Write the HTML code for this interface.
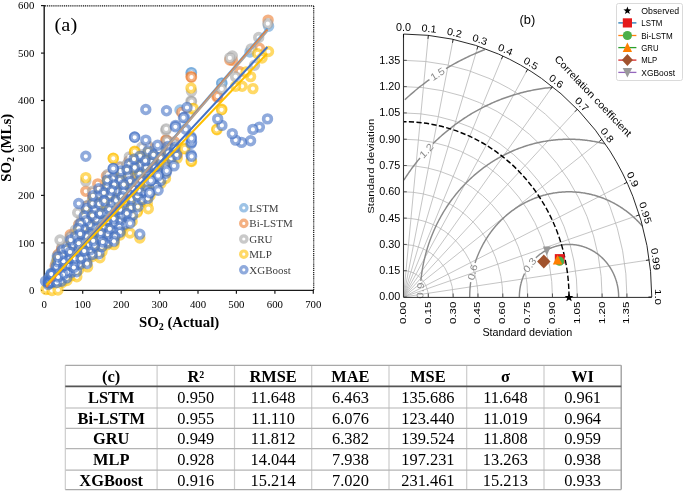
<!DOCTYPE html>
<html><head><meta charset="utf-8"><style>
html,body{margin:0;padding:0;background:#fff;}
svg{display:block;will-change:transform;}
text{font-family:"Liberation Serif",serif;}
.ta{font-size:10.8px;fill:#000;}
.lab{font-size:18px;fill:#000;}
.tt{font-size:14.8px;font-weight:bold;fill:#000;}
.lg{font-size:11px;fill:#404040;}
.tk{font-family:"Liberation Sans",sans-serif;font-size:10.2px;fill:#000;}
.st{font-family:"Liberation Sans",sans-serif;font-size:11.4px;fill:#000;}
.ct{font-family:"Liberation Sans",sans-serif;font-size:11.2px;fill:#000;}
.rl{font-family:"Liberation Sans",sans-serif;font-size:10.2px;fill:#8a8a8a;}
.tb2{font-family:"Liberation Sans",sans-serif;font-size:11.9px;fill:#000;}
.lb{font-family:"Liberation Sans",sans-serif;font-size:8.5px;fill:#000;}
.tb{font-size:16.4px;font-weight:bold;fill:#000;}
.tr{font-size:16.4px;fill:#000;}
</style></head>
<body><svg width="685" height="491" viewBox="0 0 685 491">
<rect width="685" height="491" fill="#fff"/>
<line x1="44.2" y1="5" x2="44.2" y2="291" stroke="#1a1a1a" stroke-width="1.4"/><line x1="43.5" y1="290.4" x2="313.6" y2="290.4" stroke="#1a1a1a" stroke-width="1.4"/><line x1="45" y1="5.9" x2="313.7" y2="5.9" stroke="#111" stroke-width="1.2" stroke-dasharray="1.1 0.8"/><line x1="313.7" y1="5.9" x2="313.7" y2="290" stroke="#111" stroke-width="1.2" stroke-dasharray="1.1 0.8"/><line x1="41" y1="290.3" x2="44.5" y2="290.3" stroke="#1a1a1a" stroke-width="1.2"/><text x="34.3" y="293.9" text-anchor="end" class="ta">0</text><line x1="41" y1="242.9" x2="44.5" y2="242.9" stroke="#1a1a1a" stroke-width="1.2"/><text x="34.3" y="246.5" text-anchor="end" class="ta">100</text><line x1="41" y1="195.4" x2="44.5" y2="195.4" stroke="#1a1a1a" stroke-width="1.2"/><text x="34.3" y="199.0" text-anchor="end" class="ta">200</text><line x1="41" y1="148.0" x2="44.5" y2="148.0" stroke="#1a1a1a" stroke-width="1.2"/><text x="34.3" y="151.6" text-anchor="end" class="ta">300</text><line x1="41" y1="100.5" x2="44.5" y2="100.5" stroke="#1a1a1a" stroke-width="1.2"/><text x="34.3" y="104.1" text-anchor="end" class="ta">400</text><line x1="41" y1="53.1" x2="44.5" y2="53.1" stroke="#1a1a1a" stroke-width="1.2"/><text x="34.3" y="56.7" text-anchor="end" class="ta">500</text><line x1="41" y1="5.6" x2="44.5" y2="5.6" stroke="#1a1a1a" stroke-width="1.2"/><text x="34.3" y="9.2" text-anchor="end" class="ta">600</text><line x1="44.3" y1="290" x2="44.3" y2="293.8" stroke="#1a1a1a" stroke-width="1.2"/><text x="44.3" y="307.5" text-anchor="middle" class="ta">0</text><line x1="82.7" y1="290" x2="82.7" y2="293.8" stroke="#1a1a1a" stroke-width="1.2"/><text x="82.7" y="307.5" text-anchor="middle" class="ta">100</text><line x1="121.2" y1="290" x2="121.2" y2="293.8" stroke="#1a1a1a" stroke-width="1.2"/><text x="121.2" y="307.5" text-anchor="middle" class="ta">200</text><line x1="159.6" y1="290" x2="159.6" y2="293.8" stroke="#1a1a1a" stroke-width="1.2"/><text x="159.6" y="307.5" text-anchor="middle" class="ta">300</text><line x1="198.0" y1="290" x2="198.0" y2="293.8" stroke="#1a1a1a" stroke-width="1.2"/><text x="198.0" y="307.5" text-anchor="middle" class="ta">400</text><line x1="236.4" y1="290" x2="236.4" y2="293.8" stroke="#1a1a1a" stroke-width="1.2"/><text x="236.4" y="307.5" text-anchor="middle" class="ta">500</text><line x1="274.9" y1="290" x2="274.9" y2="293.8" stroke="#1a1a1a" stroke-width="1.2"/><text x="274.9" y="307.5" text-anchor="middle" class="ta">600</text><line x1="313.3" y1="290" x2="313.3" y2="293.8" stroke="#1a1a1a" stroke-width="1.2"/><text x="313.3" y="307.5" text-anchor="middle" class="ta">700</text><text x="54.6" y="31" class="lab" textLength="22.6" lengthAdjust="spacingAndGlyphs">(a)</text><text x="179.1" y="327" text-anchor="middle" class="tt">SO<tspan font-size="10" dy="3">2</tspan><tspan dy="-3"> (Actual)</tspan></text><text transform="translate(11.3,147.8) rotate(-90)" text-anchor="middle" class="tt">SO<tspan font-size="10" dy="3">2</tspan><tspan dy="-3"> (MLs)</tspan></text>
<g stroke="#5B9BD5" stroke-opacity="0.6" stroke-width="3.6"><circle cx="158.7" cy="171.1" r="3.9" fill="#fff" fill-opacity="0.3"/><circle cx="158.7" cy="171.1" r="2.05" fill="#fff" stroke="none"/><circle cx="53.0" cy="277.8" r="3.9" fill="#fff" fill-opacity="0.3"/><circle cx="53.0" cy="277.8" r="2.05" fill="#fff" stroke="none"/><circle cx="95.8" cy="209.1" r="3.9" fill="#fff" fill-opacity="0.3"/><circle cx="95.8" cy="209.1" r="2.05" fill="#fff" stroke="none"/><circle cx="123.9" cy="200.1" r="3.9" fill="#fff" fill-opacity="0.3"/><circle cx="123.9" cy="200.1" r="2.05" fill="#fff" stroke="none"/><circle cx="121.8" cy="215.9" r="3.9" fill="#fff" fill-opacity="0.3"/><circle cx="121.8" cy="215.9" r="2.05" fill="#fff" stroke="none"/><circle cx="63.6" cy="265.0" r="3.9" fill="#fff" fill-opacity="0.3"/><circle cx="63.6" cy="265.0" r="2.05" fill="#fff" stroke="none"/><circle cx="104.4" cy="211.3" r="3.9" fill="#fff" fill-opacity="0.3"/><circle cx="104.4" cy="211.3" r="2.05" fill="#fff" stroke="none"/><circle cx="131.6" cy="207.8" r="3.9" fill="#fff" fill-opacity="0.3"/><circle cx="131.6" cy="207.8" r="2.05" fill="#fff" stroke="none"/><circle cx="129.4" cy="193.4" r="3.9" fill="#fff" fill-opacity="0.3"/><circle cx="129.4" cy="193.4" r="2.05" fill="#fff" stroke="none"/><circle cx="129.7" cy="217.9" r="3.9" fill="#fff" fill-opacity="0.3"/><circle cx="129.7" cy="217.9" r="2.05" fill="#fff" stroke="none"/><circle cx="107.7" cy="185.9" r="3.9" fill="#fff" fill-opacity="0.3"/><circle cx="107.7" cy="185.9" r="2.05" fill="#fff" stroke="none"/><circle cx="61.5" cy="250.4" r="3.9" fill="#fff" fill-opacity="0.3"/><circle cx="61.5" cy="250.4" r="2.05" fill="#fff" stroke="none"/><circle cx="127.7" cy="172.7" r="3.9" fill="#fff" fill-opacity="0.3"/><circle cx="127.7" cy="172.7" r="2.05" fill="#fff" stroke="none"/><circle cx="139.6" cy="162.5" r="3.9" fill="#fff" fill-opacity="0.3"/><circle cx="139.6" cy="162.5" r="2.05" fill="#fff" stroke="none"/><circle cx="165.7" cy="164.4" r="3.9" fill="#fff" fill-opacity="0.3"/><circle cx="165.7" cy="164.4" r="2.05" fill="#fff" stroke="none"/><circle cx="57.6" cy="269.7" r="3.9" fill="#fff" fill-opacity="0.3"/><circle cx="57.6" cy="269.7" r="2.05" fill="#fff" stroke="none"/><circle cx="152.7" cy="178.6" r="3.9" fill="#fff" fill-opacity="0.3"/><circle cx="152.7" cy="178.6" r="2.05" fill="#fff" stroke="none"/><circle cx="86.9" cy="206.1" r="3.9" fill="#fff" fill-opacity="0.3"/><circle cx="86.9" cy="206.1" r="2.05" fill="#fff" stroke="none"/><circle cx="85.0" cy="255.9" r="3.9" fill="#fff" fill-opacity="0.3"/><circle cx="85.0" cy="255.9" r="2.05" fill="#fff" stroke="none"/><circle cx="129.3" cy="181.3" r="3.9" fill="#fff" fill-opacity="0.3"/><circle cx="129.3" cy="181.3" r="2.05" fill="#fff" stroke="none"/><circle cx="99.2" cy="193.6" r="3.9" fill="#fff" fill-opacity="0.3"/><circle cx="99.2" cy="193.6" r="2.05" fill="#fff" stroke="none"/><circle cx="151.5" cy="159.3" r="3.9" fill="#fff" fill-opacity="0.3"/><circle cx="151.5" cy="159.3" r="2.05" fill="#fff" stroke="none"/><circle cx="56.4" cy="265.9" r="3.9" fill="#fff" fill-opacity="0.3"/><circle cx="56.4" cy="265.9" r="2.05" fill="#fff" stroke="none"/><circle cx="92.6" cy="204.5" r="3.9" fill="#fff" fill-opacity="0.3"/><circle cx="92.6" cy="204.5" r="2.05" fill="#fff" stroke="none"/><circle cx="119.2" cy="181.0" r="3.9" fill="#fff" fill-opacity="0.3"/><circle cx="119.2" cy="181.0" r="2.05" fill="#fff" stroke="none"/><circle cx="112.6" cy="202.8" r="3.9" fill="#fff" fill-opacity="0.3"/><circle cx="112.6" cy="202.8" r="2.05" fill="#fff" stroke="none"/><circle cx="161.3" cy="179.7" r="3.9" fill="#fff" fill-opacity="0.3"/><circle cx="161.3" cy="179.7" r="2.05" fill="#fff" stroke="none"/><circle cx="84.4" cy="239.0" r="3.9" fill="#fff" fill-opacity="0.3"/><circle cx="84.4" cy="239.0" r="2.05" fill="#fff" stroke="none"/><circle cx="108.4" cy="219.2" r="3.9" fill="#fff" fill-opacity="0.3"/><circle cx="108.4" cy="219.2" r="2.05" fill="#fff" stroke="none"/><circle cx="143.9" cy="193.5" r="3.9" fill="#fff" fill-opacity="0.3"/><circle cx="143.9" cy="193.5" r="2.05" fill="#fff" stroke="none"/><circle cx="78.3" cy="250.0" r="3.9" fill="#fff" fill-opacity="0.3"/><circle cx="78.3" cy="250.0" r="2.05" fill="#fff" stroke="none"/><circle cx="124.5" cy="225.0" r="3.9" fill="#fff" fill-opacity="0.3"/><circle cx="124.5" cy="225.0" r="2.05" fill="#fff" stroke="none"/><circle cx="119.9" cy="218.7" r="3.9" fill="#fff" fill-opacity="0.3"/><circle cx="119.9" cy="218.7" r="2.05" fill="#fff" stroke="none"/><circle cx="110.3" cy="193.4" r="3.9" fill="#fff" fill-opacity="0.3"/><circle cx="110.3" cy="193.4" r="2.05" fill="#fff" stroke="none"/><circle cx="140.7" cy="156.1" r="3.9" fill="#fff" fill-opacity="0.3"/><circle cx="140.7" cy="156.1" r="2.05" fill="#fff" stroke="none"/><circle cx="72.4" cy="270.3" r="3.9" fill="#fff" fill-opacity="0.3"/><circle cx="72.4" cy="270.3" r="2.05" fill="#fff" stroke="none"/><circle cx="75.1" cy="234.2" r="3.9" fill="#fff" fill-opacity="0.3"/><circle cx="75.1" cy="234.2" r="2.05" fill="#fff" stroke="none"/><circle cx="168.6" cy="145.0" r="3.9" fill="#fff" fill-opacity="0.3"/><circle cx="168.6" cy="145.0" r="2.05" fill="#fff" stroke="none"/><circle cx="79.3" cy="261.9" r="3.9" fill="#fff" fill-opacity="0.3"/><circle cx="79.3" cy="261.9" r="2.05" fill="#fff" stroke="none"/><circle cx="129.2" cy="160.8" r="3.9" fill="#fff" fill-opacity="0.3"/><circle cx="129.2" cy="160.8" r="2.05" fill="#fff" stroke="none"/><circle cx="171.6" cy="158.5" r="3.9" fill="#fff" fill-opacity="0.3"/><circle cx="171.6" cy="158.5" r="2.05" fill="#fff" stroke="none"/><circle cx="90.6" cy="232.1" r="3.9" fill="#fff" fill-opacity="0.3"/><circle cx="90.6" cy="232.1" r="2.05" fill="#fff" stroke="none"/><circle cx="83.6" cy="213.3" r="3.9" fill="#fff" fill-opacity="0.3"/><circle cx="83.6" cy="213.3" r="2.05" fill="#fff" stroke="none"/><circle cx="148.8" cy="193.0" r="3.9" fill="#fff" fill-opacity="0.3"/><circle cx="148.8" cy="193.0" r="2.05" fill="#fff" stroke="none"/><circle cx="121.5" cy="170.2" r="3.9" fill="#fff" fill-opacity="0.3"/><circle cx="121.5" cy="170.2" r="2.05" fill="#fff" stroke="none"/><circle cx="137.7" cy="184.8" r="3.9" fill="#fff" fill-opacity="0.3"/><circle cx="137.7" cy="184.8" r="2.05" fill="#fff" stroke="none"/><circle cx="118.0" cy="192.2" r="3.9" fill="#fff" fill-opacity="0.3"/><circle cx="118.0" cy="192.2" r="2.05" fill="#fff" stroke="none"/><circle cx="115.3" cy="198.4" r="3.9" fill="#fff" fill-opacity="0.3"/><circle cx="115.3" cy="198.4" r="2.05" fill="#fff" stroke="none"/><circle cx="114.3" cy="228.4" r="3.9" fill="#fff" fill-opacity="0.3"/><circle cx="114.3" cy="228.4" r="2.05" fill="#fff" stroke="none"/><circle cx="99.8" cy="189.7" r="3.9" fill="#fff" fill-opacity="0.3"/><circle cx="99.8" cy="189.7" r="2.05" fill="#fff" stroke="none"/><circle cx="66.0" cy="247.6" r="3.9" fill="#fff" fill-opacity="0.3"/><circle cx="66.0" cy="247.6" r="2.05" fill="#fff" stroke="none"/><circle cx="66.1" cy="278.6" r="3.9" fill="#fff" fill-opacity="0.3"/><circle cx="66.1" cy="278.6" r="2.05" fill="#fff" stroke="none"/><circle cx="149.4" cy="172.1" r="3.9" fill="#fff" fill-opacity="0.3"/><circle cx="149.4" cy="172.1" r="2.05" fill="#fff" stroke="none"/><circle cx="95.8" cy="219.4" r="3.9" fill="#fff" fill-opacity="0.3"/><circle cx="95.8" cy="219.4" r="2.05" fill="#fff" stroke="none"/><circle cx="74.2" cy="244.1" r="3.9" fill="#fff" fill-opacity="0.3"/><circle cx="74.2" cy="244.1" r="2.05" fill="#fff" stroke="none"/><circle cx="86.3" cy="262.4" r="3.9" fill="#fff" fill-opacity="0.3"/><circle cx="86.3" cy="262.4" r="2.05" fill="#fff" stroke="none"/><circle cx="62.2" cy="256.2" r="3.9" fill="#fff" fill-opacity="0.3"/><circle cx="62.2" cy="256.2" r="2.05" fill="#fff" stroke="none"/><circle cx="68.5" cy="256.2" r="3.9" fill="#fff" fill-opacity="0.3"/><circle cx="68.5" cy="256.2" r="2.05" fill="#fff" stroke="none"/><circle cx="109.2" cy="213.5" r="3.9" fill="#fff" fill-opacity="0.3"/><circle cx="109.2" cy="213.5" r="2.05" fill="#fff" stroke="none"/><circle cx="100.6" cy="236.7" r="3.9" fill="#fff" fill-opacity="0.3"/><circle cx="100.6" cy="236.7" r="2.05" fill="#fff" stroke="none"/><circle cx="78.2" cy="249.1" r="3.9" fill="#fff" fill-opacity="0.3"/><circle cx="78.2" cy="249.1" r="2.05" fill="#fff" stroke="none"/><circle cx="74.7" cy="256.8" r="3.9" fill="#fff" fill-opacity="0.3"/><circle cx="74.7" cy="256.8" r="2.05" fill="#fff" stroke="none"/><circle cx="93.1" cy="253.6" r="3.9" fill="#fff" fill-opacity="0.3"/><circle cx="93.1" cy="253.6" r="2.05" fill="#fff" stroke="none"/><circle cx="120.2" cy="209.9" r="3.9" fill="#fff" fill-opacity="0.3"/><circle cx="120.2" cy="209.9" r="2.05" fill="#fff" stroke="none"/><circle cx="114.9" cy="220.7" r="3.9" fill="#fff" fill-opacity="0.3"/><circle cx="114.9" cy="220.7" r="2.05" fill="#fff" stroke="none"/><circle cx="107.1" cy="241.8" r="3.9" fill="#fff" fill-opacity="0.3"/><circle cx="107.1" cy="241.8" r="2.05" fill="#fff" stroke="none"/><circle cx="90.9" cy="250.0" r="3.9" fill="#fff" fill-opacity="0.3"/><circle cx="90.9" cy="250.0" r="2.05" fill="#fff" stroke="none"/><circle cx="49.6" cy="283.6" r="3.9" fill="#fff" fill-opacity="0.3"/><circle cx="49.6" cy="283.6" r="2.05" fill="#fff" stroke="none"/><circle cx="81.6" cy="255.6" r="3.9" fill="#fff" fill-opacity="0.3"/><circle cx="81.6" cy="255.6" r="2.05" fill="#fff" stroke="none"/><circle cx="110.0" cy="209.4" r="3.9" fill="#fff" fill-opacity="0.3"/><circle cx="110.0" cy="209.4" r="2.05" fill="#fff" stroke="none"/><circle cx="148.5" cy="150.7" r="3.9" fill="#fff" fill-opacity="0.3"/><circle cx="148.5" cy="150.7" r="2.05" fill="#fff" stroke="none"/><circle cx="132.1" cy="199.5" r="3.9" fill="#fff" fill-opacity="0.3"/><circle cx="132.1" cy="199.5" r="2.05" fill="#fff" stroke="none"/><circle cx="120.3" cy="225.9" r="3.9" fill="#fff" fill-opacity="0.3"/><circle cx="120.3" cy="225.9" r="2.05" fill="#fff" stroke="none"/><circle cx="101.1" cy="247.3" r="3.9" fill="#fff" fill-opacity="0.3"/><circle cx="101.1" cy="247.3" r="2.05" fill="#fff" stroke="none"/><circle cx="57.0" cy="260.4" r="3.9" fill="#fff" fill-opacity="0.3"/><circle cx="57.0" cy="260.4" r="2.05" fill="#fff" stroke="none"/><circle cx="155.8" cy="186.4" r="3.9" fill="#fff" fill-opacity="0.3"/><circle cx="155.8" cy="186.4" r="2.05" fill="#fff" stroke="none"/><circle cx="155.5" cy="167.3" r="3.9" fill="#fff" fill-opacity="0.3"/><circle cx="155.5" cy="167.3" r="2.05" fill="#fff" stroke="none"/><circle cx="135.0" cy="167.4" r="3.9" fill="#fff" fill-opacity="0.3"/><circle cx="135.0" cy="167.4" r="2.05" fill="#fff" stroke="none"/><circle cx="99.2" cy="203.2" r="3.9" fill="#fff" fill-opacity="0.3"/><circle cx="99.2" cy="203.2" r="2.05" fill="#fff" stroke="none"/><circle cx="75.9" cy="271.5" r="3.9" fill="#fff" fill-opacity="0.3"/><circle cx="75.9" cy="271.5" r="2.05" fill="#fff" stroke="none"/><circle cx="160.3" cy="157.4" r="3.9" fill="#fff" fill-opacity="0.3"/><circle cx="160.3" cy="157.4" r="2.05" fill="#fff" stroke="none"/><circle cx="92.1" cy="213.7" r="3.9" fill="#fff" fill-opacity="0.3"/><circle cx="92.1" cy="213.7" r="2.05" fill="#fff" stroke="none"/><circle cx="103.3" cy="191.0" r="3.9" fill="#fff" fill-opacity="0.3"/><circle cx="103.3" cy="191.0" r="2.05" fill="#fff" stroke="none"/><circle cx="137.4" cy="194.2" r="3.9" fill="#fff" fill-opacity="0.3"/><circle cx="137.4" cy="194.2" r="2.05" fill="#fff" stroke="none"/><circle cx="141.2" cy="180.7" r="3.9" fill="#fff" fill-opacity="0.3"/><circle cx="141.2" cy="180.7" r="2.05" fill="#fff" stroke="none"/><circle cx="89.4" cy="245.5" r="3.9" fill="#fff" fill-opacity="0.3"/><circle cx="89.4" cy="245.5" r="2.05" fill="#fff" stroke="none"/><circle cx="69.8" cy="238.3" r="3.9" fill="#fff" fill-opacity="0.3"/><circle cx="69.8" cy="238.3" r="2.05" fill="#fff" stroke="none"/><circle cx="86.6" cy="217.8" r="3.9" fill="#fff" fill-opacity="0.3"/><circle cx="86.6" cy="217.8" r="2.05" fill="#fff" stroke="none"/><circle cx="87.7" cy="237.4" r="3.9" fill="#fff" fill-opacity="0.3"/><circle cx="87.7" cy="237.4" r="2.05" fill="#fff" stroke="none"/><circle cx="145.4" cy="165.6" r="3.9" fill="#fff" fill-opacity="0.3"/><circle cx="145.4" cy="165.6" r="2.05" fill="#fff" stroke="none"/><circle cx="107.3" cy="233.7" r="3.9" fill="#fff" fill-opacity="0.3"/><circle cx="107.3" cy="233.7" r="2.05" fill="#fff" stroke="none"/><circle cx="120.6" cy="232.5" r="3.9" fill="#fff" fill-opacity="0.3"/><circle cx="120.6" cy="232.5" r="2.05" fill="#fff" stroke="none"/><circle cx="95.4" cy="246.2" r="3.9" fill="#fff" fill-opacity="0.3"/><circle cx="95.4" cy="246.2" r="2.05" fill="#fff" stroke="none"/><circle cx="168.7" cy="151.1" r="3.9" fill="#fff" fill-opacity="0.3"/><circle cx="168.7" cy="151.1" r="2.05" fill="#fff" stroke="none"/><circle cx="138.3" cy="188.7" r="3.9" fill="#fff" fill-opacity="0.3"/><circle cx="138.3" cy="188.7" r="2.05" fill="#fff" stroke="none"/><circle cx="80.3" cy="223.8" r="3.9" fill="#fff" fill-opacity="0.3"/><circle cx="80.3" cy="223.8" r="2.05" fill="#fff" stroke="none"/><circle cx="70.2" cy="249.5" r="3.9" fill="#fff" fill-opacity="0.3"/><circle cx="70.2" cy="249.5" r="2.05" fill="#fff" stroke="none"/><circle cx="78.6" cy="228.3" r="3.9" fill="#fff" fill-opacity="0.3"/><circle cx="78.6" cy="228.3" r="2.05" fill="#fff" stroke="none"/><circle cx="123.3" cy="182.4" r="3.9" fill="#fff" fill-opacity="0.3"/><circle cx="123.3" cy="182.4" r="2.05" fill="#fff" stroke="none"/><circle cx="66.4" cy="270.2" r="3.9" fill="#fff" fill-opacity="0.3"/><circle cx="66.4" cy="270.2" r="2.05" fill="#fff" stroke="none"/><circle cx="114.9" cy="234.2" r="3.9" fill="#fff" fill-opacity="0.3"/><circle cx="114.9" cy="234.2" r="2.05" fill="#fff" stroke="none"/><circle cx="100.2" cy="210.6" r="3.9" fill="#fff" fill-opacity="0.3"/><circle cx="100.2" cy="210.6" r="2.05" fill="#fff" stroke="none"/><circle cx="112.8" cy="216.3" r="3.9" fill="#fff" fill-opacity="0.3"/><circle cx="112.8" cy="216.3" r="2.05" fill="#fff" stroke="none"/><circle cx="145.3" cy="158.8" r="3.9" fill="#fff" fill-opacity="0.3"/><circle cx="145.3" cy="158.8" r="2.05" fill="#fff" stroke="none"/><circle cx="122.6" cy="195.6" r="3.9" fill="#fff" fill-opacity="0.3"/><circle cx="122.6" cy="195.6" r="2.05" fill="#fff" stroke="none"/><circle cx="131.8" cy="214.9" r="3.9" fill="#fff" fill-opacity="0.3"/><circle cx="131.8" cy="214.9" r="2.05" fill="#fff" stroke="none"/><circle cx="79.5" cy="232.5" r="3.9" fill="#fff" fill-opacity="0.3"/><circle cx="79.5" cy="232.5" r="2.05" fill="#fff" stroke="none"/><circle cx="113.5" cy="238.3" r="3.9" fill="#fff" fill-opacity="0.3"/><circle cx="113.5" cy="238.3" r="2.05" fill="#fff" stroke="none"/><circle cx="62.8" cy="274.8" r="3.9" fill="#fff" fill-opacity="0.3"/><circle cx="62.8" cy="274.8" r="2.05" fill="#fff" stroke="none"/><circle cx="109.0" cy="226.8" r="3.9" fill="#fff" fill-opacity="0.3"/><circle cx="109.0" cy="226.8" r="2.05" fill="#fff" stroke="none"/><circle cx="113.3" cy="181.8" r="3.9" fill="#fff" fill-opacity="0.3"/><circle cx="113.3" cy="181.8" r="2.05" fill="#fff" stroke="none"/><circle cx="78.3" cy="243.2" r="3.9" fill="#fff" fill-opacity="0.3"/><circle cx="78.3" cy="243.2" r="2.05" fill="#fff" stroke="none"/><circle cx="165.4" cy="170.7" r="3.9" fill="#fff" fill-opacity="0.3"/><circle cx="165.4" cy="170.7" r="2.05" fill="#fff" stroke="none"/><circle cx="51.1" cy="273.5" r="3.9" fill="#fff" fill-opacity="0.3"/><circle cx="51.1" cy="273.5" r="2.05" fill="#fff" stroke="none"/><circle cx="107.7" cy="177.4" r="3.9" fill="#fff" fill-opacity="0.3"/><circle cx="107.7" cy="177.4" r="2.05" fill="#fff" stroke="none"/><circle cx="102.2" cy="239.4" r="3.9" fill="#fff" fill-opacity="0.3"/><circle cx="102.2" cy="239.4" r="2.05" fill="#fff" stroke="none"/><circle cx="127.3" cy="211.3" r="3.9" fill="#fff" fill-opacity="0.3"/><circle cx="127.3" cy="211.3" r="2.05" fill="#fff" stroke="none"/><circle cx="147.3" cy="196.4" r="3.9" fill="#fff" fill-opacity="0.3"/><circle cx="147.3" cy="196.4" r="2.05" fill="#fff" stroke="none"/><circle cx="57.3" cy="255.9" r="3.9" fill="#fff" fill-opacity="0.3"/><circle cx="57.3" cy="255.9" r="2.05" fill="#fff" stroke="none"/><circle cx="133.3" cy="157.4" r="3.9" fill="#fff" fill-opacity="0.3"/><circle cx="133.3" cy="157.4" r="2.05" fill="#fff" stroke="none"/><circle cx="110.9" cy="190.2" r="3.9" fill="#fff" fill-opacity="0.3"/><circle cx="110.9" cy="190.2" r="2.05" fill="#fff" stroke="none"/><circle cx="72.9" cy="266.5" r="3.9" fill="#fff" fill-opacity="0.3"/><circle cx="72.9" cy="266.5" r="2.05" fill="#fff" stroke="none"/><circle cx="58.4" cy="276.7" r="3.9" fill="#fff" fill-opacity="0.3"/><circle cx="58.4" cy="276.7" r="2.05" fill="#fff" stroke="none"/><circle cx="173.7" cy="146.6" r="3.9" fill="#fff" fill-opacity="0.3"/><circle cx="173.7" cy="146.6" r="2.05" fill="#fff" stroke="none"/><circle cx="268.6" cy="26.2" r="3.9" fill="#fff"/><circle cx="250.0" cy="52.0" r="3.9" fill="#fff"/><circle cx="221.9" cy="83.1" r="3.9" fill="#fff"/><circle cx="191.0" cy="73.0" r="3.9" fill="#fff"/><circle cx="191.5" cy="72.6" r="3.9" fill="#fff"/><circle cx="221.7" cy="83.2" r="3.9" fill="#fff"/><circle cx="180.0" cy="110.0" r="3.9" fill="#fff"/><circle cx="140.0" cy="160.0" r="3.9" fill="#fff"/></g><g stroke="#ED7D31" stroke-opacity="0.6" stroke-width="3.6"><circle cx="159.8" cy="168.9" r="3.9" fill="#fff" fill-opacity="0.3"/><circle cx="159.8" cy="168.9" r="2.05" fill="#fff" stroke="none"/><circle cx="53.9" cy="274.6" r="3.9" fill="#fff" fill-opacity="0.3"/><circle cx="53.9" cy="274.6" r="2.05" fill="#fff" stroke="none"/><circle cx="104.2" cy="223.4" r="3.9" fill="#fff" fill-opacity="0.3"/><circle cx="104.2" cy="223.4" r="2.05" fill="#fff" stroke="none"/><circle cx="124.4" cy="199.0" r="3.9" fill="#fff" fill-opacity="0.3"/><circle cx="124.4" cy="199.0" r="2.05" fill="#fff" stroke="none"/><circle cx="63.6" cy="262.5" r="3.9" fill="#fff" fill-opacity="0.3"/><circle cx="63.6" cy="262.5" r="2.05" fill="#fff" stroke="none"/><circle cx="104.3" cy="208.5" r="3.9" fill="#fff" fill-opacity="0.3"/><circle cx="104.3" cy="208.5" r="2.05" fill="#fff" stroke="none"/><circle cx="131.4" cy="206.0" r="3.9" fill="#fff" fill-opacity="0.3"/><circle cx="131.4" cy="206.0" r="2.05" fill="#fff" stroke="none"/><circle cx="129.7" cy="219.7" r="3.9" fill="#fff" fill-opacity="0.3"/><circle cx="129.7" cy="219.7" r="2.05" fill="#fff" stroke="none"/><circle cx="138.5" cy="202.7" r="3.9" fill="#fff" fill-opacity="0.3"/><circle cx="138.5" cy="202.7" r="2.05" fill="#fff" stroke="none"/><circle cx="61.6" cy="248.8" r="3.9" fill="#fff" fill-opacity="0.3"/><circle cx="61.6" cy="248.8" r="2.05" fill="#fff" stroke="none"/><circle cx="128.0" cy="173.1" r="3.9" fill="#fff" fill-opacity="0.3"/><circle cx="128.0" cy="173.1" r="2.05" fill="#fff" stroke="none"/><circle cx="68.8" cy="264.4" r="3.9" fill="#fff" fill-opacity="0.3"/><circle cx="68.8" cy="264.4" r="2.05" fill="#fff" stroke="none"/><circle cx="141.1" cy="163.2" r="3.9" fill="#fff" fill-opacity="0.3"/><circle cx="141.1" cy="163.2" r="2.05" fill="#fff" stroke="none"/><circle cx="140.2" cy="173.4" r="3.9" fill="#fff" fill-opacity="0.3"/><circle cx="140.2" cy="173.4" r="2.05" fill="#fff" stroke="none"/><circle cx="165.7" cy="163.3" r="3.9" fill="#fff" fill-opacity="0.3"/><circle cx="165.7" cy="163.3" r="2.05" fill="#fff" stroke="none"/><circle cx="57.1" cy="267.9" r="3.9" fill="#fff" fill-opacity="0.3"/><circle cx="57.1" cy="267.9" r="2.05" fill="#fff" stroke="none"/><circle cx="153.5" cy="175.7" r="3.9" fill="#fff" fill-opacity="0.3"/><circle cx="153.5" cy="175.7" r="2.05" fill="#fff" stroke="none"/><circle cx="86.8" cy="206.3" r="3.9" fill="#fff" fill-opacity="0.3"/><circle cx="86.8" cy="206.3" r="2.05" fill="#fff" stroke="none"/><circle cx="85.2" cy="252.6" r="3.9" fill="#fff" fill-opacity="0.3"/><circle cx="85.2" cy="252.6" r="2.05" fill="#fff" stroke="none"/><circle cx="130.0" cy="179.9" r="3.9" fill="#fff" fill-opacity="0.3"/><circle cx="130.0" cy="179.9" r="2.05" fill="#fff" stroke="none"/><circle cx="97.8" cy="191.4" r="3.9" fill="#fff" fill-opacity="0.3"/><circle cx="97.8" cy="191.4" r="2.05" fill="#fff" stroke="none"/><circle cx="151.0" cy="157.9" r="3.9" fill="#fff" fill-opacity="0.3"/><circle cx="151.0" cy="157.9" r="2.05" fill="#fff" stroke="none"/><circle cx="55.2" cy="265.9" r="3.9" fill="#fff" fill-opacity="0.3"/><circle cx="55.2" cy="265.9" r="2.05" fill="#fff" stroke="none"/><circle cx="92.9" cy="198.5" r="3.9" fill="#fff" fill-opacity="0.3"/><circle cx="92.9" cy="198.5" r="2.05" fill="#fff" stroke="none"/><circle cx="119.8" cy="176.7" r="3.9" fill="#fff" fill-opacity="0.3"/><circle cx="119.8" cy="176.7" r="2.05" fill="#fff" stroke="none"/><circle cx="113.0" cy="174.5" r="3.9" fill="#fff" fill-opacity="0.3"/><circle cx="113.0" cy="174.5" r="2.05" fill="#fff" stroke="none"/><circle cx="112.5" cy="198.9" r="3.9" fill="#fff" fill-opacity="0.3"/><circle cx="112.5" cy="198.9" r="2.05" fill="#fff" stroke="none"/><circle cx="160.6" cy="178.7" r="3.9" fill="#fff" fill-opacity="0.3"/><circle cx="160.6" cy="178.7" r="2.05" fill="#fff" stroke="none"/><circle cx="82.9" cy="237.0" r="3.9" fill="#fff" fill-opacity="0.3"/><circle cx="82.9" cy="237.0" r="2.05" fill="#fff" stroke="none"/><circle cx="107.5" cy="217.1" r="3.9" fill="#fff" fill-opacity="0.3"/><circle cx="107.5" cy="217.1" r="2.05" fill="#fff" stroke="none"/><circle cx="143.4" cy="189.1" r="3.9" fill="#fff" fill-opacity="0.3"/><circle cx="143.4" cy="189.1" r="2.05" fill="#fff" stroke="none"/><circle cx="77.0" cy="249.4" r="3.9" fill="#fff" fill-opacity="0.3"/><circle cx="77.0" cy="249.4" r="2.05" fill="#fff" stroke="none"/><circle cx="142.7" cy="198.6" r="3.9" fill="#fff" fill-opacity="0.3"/><circle cx="142.7" cy="198.6" r="2.05" fill="#fff" stroke="none"/><circle cx="94.0" cy="225.1" r="3.9" fill="#fff" fill-opacity="0.3"/><circle cx="94.0" cy="225.1" r="2.05" fill="#fff" stroke="none"/><circle cx="123.9" cy="224.0" r="3.9" fill="#fff" fill-opacity="0.3"/><circle cx="123.9" cy="224.0" r="2.05" fill="#fff" stroke="none"/><circle cx="158.5" cy="149.6" r="3.9" fill="#fff" fill-opacity="0.3"/><circle cx="158.5" cy="149.6" r="2.05" fill="#fff" stroke="none"/><circle cx="139.2" cy="151.7" r="3.9" fill="#fff" fill-opacity="0.3"/><circle cx="139.2" cy="151.7" r="2.05" fill="#fff" stroke="none"/><circle cx="72.6" cy="269.9" r="3.9" fill="#fff" fill-opacity="0.3"/><circle cx="72.6" cy="269.9" r="2.05" fill="#fff" stroke="none"/><circle cx="74.4" cy="233.6" r="3.9" fill="#fff" fill-opacity="0.3"/><circle cx="74.4" cy="233.6" r="2.05" fill="#fff" stroke="none"/><circle cx="167.0" cy="141.0" r="3.9" fill="#fff" fill-opacity="0.3"/><circle cx="167.0" cy="141.0" r="2.05" fill="#fff" stroke="none"/><circle cx="80.1" cy="259.4" r="3.9" fill="#fff" fill-opacity="0.3"/><circle cx="80.1" cy="259.4" r="2.05" fill="#fff" stroke="none"/><circle cx="129.1" cy="160.9" r="3.9" fill="#fff" fill-opacity="0.3"/><circle cx="129.1" cy="160.9" r="2.05" fill="#fff" stroke="none"/><circle cx="170.1" cy="155.8" r="3.9" fill="#fff" fill-opacity="0.3"/><circle cx="170.1" cy="155.8" r="2.05" fill="#fff" stroke="none"/><circle cx="85.0" cy="213.2" r="3.9" fill="#fff" fill-opacity="0.3"/><circle cx="85.0" cy="213.2" r="2.05" fill="#fff" stroke="none"/><circle cx="89.2" cy="222.9" r="3.9" fill="#fff" fill-opacity="0.3"/><circle cx="89.2" cy="222.9" r="2.05" fill="#fff" stroke="none"/><circle cx="119.9" cy="167.4" r="3.9" fill="#fff" fill-opacity="0.3"/><circle cx="119.9" cy="167.4" r="2.05" fill="#fff" stroke="none"/><circle cx="101.5" cy="218.1" r="3.9" fill="#fff" fill-opacity="0.3"/><circle cx="101.5" cy="218.1" r="2.05" fill="#fff" stroke="none"/><circle cx="147.3" cy="181.4" r="3.9" fill="#fff" fill-opacity="0.3"/><circle cx="147.3" cy="181.4" r="2.05" fill="#fff" stroke="none"/><circle cx="115.9" cy="198.9" r="3.9" fill="#fff" fill-opacity="0.3"/><circle cx="115.9" cy="198.9" r="2.05" fill="#fff" stroke="none"/><circle cx="115.3" cy="225.3" r="3.9" fill="#fff" fill-opacity="0.3"/><circle cx="115.3" cy="225.3" r="2.05" fill="#fff" stroke="none"/><circle cx="97.8" cy="183.9" r="3.9" fill="#fff" fill-opacity="0.3"/><circle cx="97.8" cy="183.9" r="2.05" fill="#fff" stroke="none"/><circle cx="92.1" cy="193.0" r="3.9" fill="#fff" fill-opacity="0.3"/><circle cx="92.1" cy="193.0" r="2.05" fill="#fff" stroke="none"/><circle cx="67.4" cy="246.5" r="3.9" fill="#fff" fill-opacity="0.3"/><circle cx="67.4" cy="246.5" r="2.05" fill="#fff" stroke="none"/><circle cx="66.0" cy="275.9" r="3.9" fill="#fff" fill-opacity="0.3"/><circle cx="66.0" cy="275.9" r="2.05" fill="#fff" stroke="none"/><circle cx="149.7" cy="174.1" r="3.9" fill="#fff" fill-opacity="0.3"/><circle cx="149.7" cy="174.1" r="2.05" fill="#fff" stroke="none"/><circle cx="96.3" cy="214.8" r="3.9" fill="#fff" fill-opacity="0.3"/><circle cx="96.3" cy="214.8" r="2.05" fill="#fff" stroke="none"/><circle cx="86.4" cy="261.6" r="3.9" fill="#fff" fill-opacity="0.3"/><circle cx="86.4" cy="261.6" r="2.05" fill="#fff" stroke="none"/><circle cx="63.6" cy="252.3" r="3.9" fill="#fff" fill-opacity="0.3"/><circle cx="63.6" cy="252.3" r="2.05" fill="#fff" stroke="none"/><circle cx="83.3" cy="224.5" r="3.9" fill="#fff" fill-opacity="0.3"/><circle cx="83.3" cy="224.5" r="2.05" fill="#fff" stroke="none"/><circle cx="68.8" cy="255.4" r="3.9" fill="#fff" fill-opacity="0.3"/><circle cx="68.8" cy="255.4" r="2.05" fill="#fff" stroke="none"/><circle cx="111.1" cy="213.6" r="3.9" fill="#fff" fill-opacity="0.3"/><circle cx="111.1" cy="213.6" r="2.05" fill="#fff" stroke="none"/><circle cx="100.3" cy="234.2" r="3.9" fill="#fff" fill-opacity="0.3"/><circle cx="100.3" cy="234.2" r="2.05" fill="#fff" stroke="none"/><circle cx="74.5" cy="254.3" r="3.9" fill="#fff" fill-opacity="0.3"/><circle cx="74.5" cy="254.3" r="2.05" fill="#fff" stroke="none"/><circle cx="92.3" cy="253.2" r="3.9" fill="#fff" fill-opacity="0.3"/><circle cx="92.3" cy="253.2" r="2.05" fill="#fff" stroke="none"/><circle cx="120.8" cy="203.8" r="3.9" fill="#fff" fill-opacity="0.3"/><circle cx="120.8" cy="203.8" r="2.05" fill="#fff" stroke="none"/><circle cx="113.2" cy="223.5" r="3.9" fill="#fff" fill-opacity="0.3"/><circle cx="113.2" cy="223.5" r="2.05" fill="#fff" stroke="none"/><circle cx="107.8" cy="242.0" r="3.9" fill="#fff" fill-opacity="0.3"/><circle cx="107.8" cy="242.0" r="2.05" fill="#fff" stroke="none"/><circle cx="89.8" cy="247.0" r="3.9" fill="#fff" fill-opacity="0.3"/><circle cx="89.8" cy="247.0" r="2.05" fill="#fff" stroke="none"/><circle cx="79.9" cy="253.0" r="3.9" fill="#fff" fill-opacity="0.3"/><circle cx="79.9" cy="253.0" r="2.05" fill="#fff" stroke="none"/><circle cx="109.1" cy="203.5" r="3.9" fill="#fff" fill-opacity="0.3"/><circle cx="109.1" cy="203.5" r="2.05" fill="#fff" stroke="none"/><circle cx="147.2" cy="146.3" r="3.9" fill="#fff" fill-opacity="0.3"/><circle cx="147.2" cy="146.3" r="2.05" fill="#fff" stroke="none"/><circle cx="109.6" cy="232.5" r="3.9" fill="#fff" fill-opacity="0.3"/><circle cx="109.6" cy="232.5" r="2.05" fill="#fff" stroke="none"/><circle cx="130.8" cy="198.0" r="3.9" fill="#fff" fill-opacity="0.3"/><circle cx="130.8" cy="198.0" r="2.05" fill="#fff" stroke="none"/><circle cx="119.9" cy="226.7" r="3.9" fill="#fff" fill-opacity="0.3"/><circle cx="119.9" cy="226.7" r="2.05" fill="#fff" stroke="none"/><circle cx="101.1" cy="242.2" r="3.9" fill="#fff" fill-opacity="0.3"/><circle cx="101.1" cy="242.2" r="2.05" fill="#fff" stroke="none"/><circle cx="58.7" cy="259.5" r="3.9" fill="#fff" fill-opacity="0.3"/><circle cx="58.7" cy="259.5" r="2.05" fill="#fff" stroke="none"/><circle cx="154.4" cy="163.0" r="3.9" fill="#fff" fill-opacity="0.3"/><circle cx="154.4" cy="163.0" r="2.05" fill="#fff" stroke="none"/><circle cx="134.3" cy="166.5" r="3.9" fill="#fff" fill-opacity="0.3"/><circle cx="134.3" cy="166.5" r="2.05" fill="#fff" stroke="none"/><circle cx="98.9" cy="198.9" r="3.9" fill="#fff" fill-opacity="0.3"/><circle cx="98.9" cy="198.9" r="2.05" fill="#fff" stroke="none"/><circle cx="123.7" cy="188.4" r="3.9" fill="#fff" fill-opacity="0.3"/><circle cx="123.7" cy="188.4" r="2.05" fill="#fff" stroke="none"/><circle cx="75.9" cy="266.8" r="3.9" fill="#fff" fill-opacity="0.3"/><circle cx="75.9" cy="266.8" r="2.05" fill="#fff" stroke="none"/><circle cx="161.3" cy="156.1" r="3.9" fill="#fff" fill-opacity="0.3"/><circle cx="161.3" cy="156.1" r="2.05" fill="#fff" stroke="none"/><circle cx="93.1" cy="214.5" r="3.9" fill="#fff" fill-opacity="0.3"/><circle cx="93.1" cy="214.5" r="2.05" fill="#fff" stroke="none"/><circle cx="104.0" cy="191.2" r="3.9" fill="#fff" fill-opacity="0.3"/><circle cx="104.0" cy="191.2" r="2.05" fill="#fff" stroke="none"/><circle cx="137.2" cy="190.6" r="3.9" fill="#fff" fill-opacity="0.3"/><circle cx="137.2" cy="190.6" r="2.05" fill="#fff" stroke="none"/><circle cx="141.6" cy="176.5" r="3.9" fill="#fff" fill-opacity="0.3"/><circle cx="141.6" cy="176.5" r="2.05" fill="#fff" stroke="none"/><circle cx="89.5" cy="242.4" r="3.9" fill="#fff" fill-opacity="0.3"/><circle cx="89.5" cy="242.4" r="2.05" fill="#fff" stroke="none"/><circle cx="70.3" cy="234.8" r="3.9" fill="#fff" fill-opacity="0.3"/><circle cx="70.3" cy="234.8" r="2.05" fill="#fff" stroke="none"/><circle cx="177.2" cy="154.6" r="3.9" fill="#fff" fill-opacity="0.3"/><circle cx="177.2" cy="154.6" r="2.05" fill="#fff" stroke="none"/><circle cx="104.2" cy="195.8" r="3.9" fill="#fff" fill-opacity="0.3"/><circle cx="104.2" cy="195.8" r="2.05" fill="#fff" stroke="none"/><circle cx="85.3" cy="217.8" r="3.9" fill="#fff" fill-opacity="0.3"/><circle cx="85.3" cy="217.8" r="2.05" fill="#fff" stroke="none"/><circle cx="146.7" cy="163.8" r="3.9" fill="#fff" fill-opacity="0.3"/><circle cx="146.7" cy="163.8" r="2.05" fill="#fff" stroke="none"/><circle cx="106.6" cy="232.9" r="3.9" fill="#fff" fill-opacity="0.3"/><circle cx="106.6" cy="232.9" r="2.05" fill="#fff" stroke="none"/><circle cx="119.0" cy="229.5" r="3.9" fill="#fff" fill-opacity="0.3"/><circle cx="119.0" cy="229.5" r="2.05" fill="#fff" stroke="none"/><circle cx="93.6" cy="243.6" r="3.9" fill="#fff" fill-opacity="0.3"/><circle cx="93.6" cy="243.6" r="2.05" fill="#fff" stroke="none"/><circle cx="83.5" cy="245.8" r="3.9" fill="#fff" fill-opacity="0.3"/><circle cx="83.5" cy="245.8" r="2.05" fill="#fff" stroke="none"/><circle cx="63.0" cy="260.2" r="3.9" fill="#fff" fill-opacity="0.3"/><circle cx="63.0" cy="260.2" r="2.05" fill="#fff" stroke="none"/><circle cx="101.0" cy="230.6" r="3.9" fill="#fff" fill-opacity="0.3"/><circle cx="101.0" cy="230.6" r="2.05" fill="#fff" stroke="none"/><circle cx="167.6" cy="150.1" r="3.9" fill="#fff" fill-opacity="0.3"/><circle cx="167.6" cy="150.1" r="2.05" fill="#fff" stroke="none"/><circle cx="138.0" cy="184.8" r="3.9" fill="#fff" fill-opacity="0.3"/><circle cx="138.0" cy="184.8" r="2.05" fill="#fff" stroke="none"/><circle cx="93.3" cy="239.0" r="3.9" fill="#fff" fill-opacity="0.3"/><circle cx="93.3" cy="239.0" r="2.05" fill="#fff" stroke="none"/><circle cx="81.2" cy="222.8" r="3.9" fill="#fff" fill-opacity="0.3"/><circle cx="81.2" cy="222.8" r="2.05" fill="#fff" stroke="none"/><circle cx="132.6" cy="185.7" r="3.9" fill="#fff" fill-opacity="0.3"/><circle cx="132.6" cy="185.7" r="2.05" fill="#fff" stroke="none"/><circle cx="69.9" cy="248.3" r="3.9" fill="#fff" fill-opacity="0.3"/><circle cx="69.9" cy="248.3" r="2.05" fill="#fff" stroke="none"/><circle cx="78.7" cy="224.6" r="3.9" fill="#fff" fill-opacity="0.3"/><circle cx="78.7" cy="224.6" r="2.05" fill="#fff" stroke="none"/><circle cx="122.9" cy="178.9" r="3.9" fill="#fff" fill-opacity="0.3"/><circle cx="122.9" cy="178.9" r="2.05" fill="#fff" stroke="none"/><circle cx="67.1" cy="269.2" r="3.9" fill="#fff" fill-opacity="0.3"/><circle cx="67.1" cy="269.2" r="2.05" fill="#fff" stroke="none"/><circle cx="115.2" cy="234.5" r="3.9" fill="#fff" fill-opacity="0.3"/><circle cx="115.2" cy="234.5" r="2.05" fill="#fff" stroke="none"/><circle cx="100.6" cy="210.6" r="3.9" fill="#fff" fill-opacity="0.3"/><circle cx="100.6" cy="210.6" r="2.05" fill="#fff" stroke="none"/><circle cx="113.2" cy="218.0" r="3.9" fill="#fff" fill-opacity="0.3"/><circle cx="113.2" cy="218.0" r="2.05" fill="#fff" stroke="none"/><circle cx="153.3" cy="149.2" r="3.9" fill="#fff" fill-opacity="0.3"/><circle cx="153.3" cy="149.2" r="2.05" fill="#fff" stroke="none"/><circle cx="55.9" cy="277.6" r="3.9" fill="#fff" fill-opacity="0.3"/><circle cx="55.9" cy="277.6" r="2.05" fill="#fff" stroke="none"/><circle cx="122.0" cy="192.3" r="3.9" fill="#fff" fill-opacity="0.3"/><circle cx="122.0" cy="192.3" r="2.05" fill="#fff" stroke="none"/><circle cx="131.8" cy="212.1" r="3.9" fill="#fff" fill-opacity="0.3"/><circle cx="131.8" cy="212.1" r="2.05" fill="#fff" stroke="none"/><circle cx="79.6" cy="233.3" r="3.9" fill="#fff" fill-opacity="0.3"/><circle cx="79.6" cy="233.3" r="2.05" fill="#fff" stroke="none"/><circle cx="114.3" cy="237.4" r="3.9" fill="#fff" fill-opacity="0.3"/><circle cx="114.3" cy="237.4" r="2.05" fill="#fff" stroke="none"/><circle cx="63.8" cy="274.0" r="3.9" fill="#fff" fill-opacity="0.3"/><circle cx="63.8" cy="274.0" r="2.05" fill="#fff" stroke="none"/><circle cx="110.2" cy="223.2" r="3.9" fill="#fff" fill-opacity="0.3"/><circle cx="110.2" cy="223.2" r="2.05" fill="#fff" stroke="none"/><circle cx="113.8" cy="183.2" r="3.9" fill="#fff" fill-opacity="0.3"/><circle cx="113.8" cy="183.2" r="2.05" fill="#fff" stroke="none"/><circle cx="77.7" cy="240.6" r="3.9" fill="#fff" fill-opacity="0.3"/><circle cx="77.7" cy="240.6" r="2.05" fill="#fff" stroke="none"/><circle cx="165.8" cy="170.6" r="3.9" fill="#fff" fill-opacity="0.3"/><circle cx="165.8" cy="170.6" r="2.05" fill="#fff" stroke="none"/><circle cx="106.4" cy="176.1" r="3.9" fill="#fff" fill-opacity="0.3"/><circle cx="106.4" cy="176.1" r="2.05" fill="#fff" stroke="none"/><circle cx="127.6" cy="212.6" r="3.9" fill="#fff" fill-opacity="0.3"/><circle cx="127.6" cy="212.6" r="2.05" fill="#fff" stroke="none"/><circle cx="146.9" cy="197.3" r="3.9" fill="#fff" fill-opacity="0.3"/><circle cx="146.9" cy="197.3" r="2.05" fill="#fff" stroke="none"/><circle cx="58.3" cy="254.2" r="3.9" fill="#fff" fill-opacity="0.3"/><circle cx="58.3" cy="254.2" r="2.05" fill="#fff" stroke="none"/><circle cx="133.9" cy="154.5" r="3.9" fill="#fff" fill-opacity="0.3"/><circle cx="133.9" cy="154.5" r="2.05" fill="#fff" stroke="none"/><circle cx="112.2" cy="188.1" r="3.9" fill="#fff" fill-opacity="0.3"/><circle cx="112.2" cy="188.1" r="2.05" fill="#fff" stroke="none"/><circle cx="57.2" cy="275.9" r="3.9" fill="#fff" fill-opacity="0.3"/><circle cx="57.2" cy="275.9" r="2.05" fill="#fff" stroke="none"/><circle cx="125.9" cy="169.7" r="3.9" fill="#fff" fill-opacity="0.3"/><circle cx="125.9" cy="169.7" r="2.05" fill="#fff" stroke="none"/><circle cx="174.4" cy="141.9" r="3.9" fill="#fff" fill-opacity="0.3"/><circle cx="174.4" cy="141.9" r="2.05" fill="#fff" stroke="none"/><circle cx="268.1" cy="20.1" r="3.9" fill="#fff"/><circle cx="259.4" cy="48.2" r="3.9" fill="#fff"/><circle cx="232.3" cy="60.3" r="3.9" fill="#fff"/><circle cx="239.8" cy="71.7" r="3.9" fill="#fff"/><circle cx="191.0" cy="76.6" r="3.9" fill="#fff"/><circle cx="217.0" cy="97.0" r="3.9" fill="#fff"/><circle cx="165.9" cy="140.1" r="3.9" fill="#fff"/><circle cx="166.2" cy="140.1" r="3.9" fill="#fff"/><circle cx="85.8" cy="191.3" r="3.9" fill="#fff"/><circle cx="191.5" cy="77.1" r="3.9" fill="#fff"/><circle cx="181.8" cy="112.5" r="3.9" fill="#fff"/><circle cx="217.6" cy="96.2" r="3.9" fill="#fff"/><circle cx="229.8" cy="60.0" r="3.9" fill="#fff"/><circle cx="62.0" cy="255.0" r="3.9" fill="#fff"/><circle cx="75.0" cy="235.0" r="3.9" fill="#fff"/></g><g stroke="#A5A5A5" stroke-opacity="0.6" stroke-width="3.6"><circle cx="159.6" cy="169.6" r="3.9" fill="#fff" fill-opacity="0.3"/><circle cx="159.6" cy="169.6" r="2.05" fill="#fff" stroke="none"/><circle cx="53.5" cy="272.2" r="3.9" fill="#fff" fill-opacity="0.3"/><circle cx="53.5" cy="272.2" r="2.05" fill="#fff" stroke="none"/><circle cx="103.2" cy="219.6" r="3.9" fill="#fff" fill-opacity="0.3"/><circle cx="103.2" cy="219.6" r="2.05" fill="#fff" stroke="none"/><circle cx="94.5" cy="208.2" r="3.9" fill="#fff" fill-opacity="0.3"/><circle cx="94.5" cy="208.2" r="2.05" fill="#fff" stroke="none"/><circle cx="60.4" cy="274.3" r="3.9" fill="#fff" fill-opacity="0.3"/><circle cx="60.4" cy="274.3" r="2.05" fill="#fff" stroke="none"/><circle cx="125.3" cy="195.2" r="3.9" fill="#fff" fill-opacity="0.3"/><circle cx="125.3" cy="195.2" r="2.05" fill="#fff" stroke="none"/><circle cx="122.8" cy="212.7" r="3.9" fill="#fff" fill-opacity="0.3"/><circle cx="122.8" cy="212.7" r="2.05" fill="#fff" stroke="none"/><circle cx="64.9" cy="265.1" r="3.9" fill="#fff" fill-opacity="0.3"/><circle cx="64.9" cy="265.1" r="2.05" fill="#fff" stroke="none"/><circle cx="105.9" cy="208.6" r="3.9" fill="#fff" fill-opacity="0.3"/><circle cx="105.9" cy="208.6" r="2.05" fill="#fff" stroke="none"/><circle cx="114.2" cy="207.2" r="3.9" fill="#fff" fill-opacity="0.3"/><circle cx="114.2" cy="207.2" r="2.05" fill="#fff" stroke="none"/><circle cx="130.4" cy="205.4" r="3.9" fill="#fff" fill-opacity="0.3"/><circle cx="130.4" cy="205.4" r="2.05" fill="#fff" stroke="none"/><circle cx="129.5" cy="191.3" r="3.9" fill="#fff" fill-opacity="0.3"/><circle cx="129.5" cy="191.3" r="2.05" fill="#fff" stroke="none"/><circle cx="129.4" cy="215.1" r="3.9" fill="#fff" fill-opacity="0.3"/><circle cx="129.4" cy="215.1" r="2.05" fill="#fff" stroke="none"/><circle cx="107.7" cy="180.2" r="3.9" fill="#fff" fill-opacity="0.3"/><circle cx="107.7" cy="180.2" r="2.05" fill="#fff" stroke="none"/><circle cx="137.0" cy="202.8" r="3.9" fill="#fff" fill-opacity="0.3"/><circle cx="137.0" cy="202.8" r="2.05" fill="#fff" stroke="none"/><circle cx="62.1" cy="246.5" r="3.9" fill="#fff" fill-opacity="0.3"/><circle cx="62.1" cy="246.5" r="2.05" fill="#fff" stroke="none"/><circle cx="141.3" cy="159.1" r="3.9" fill="#fff" fill-opacity="0.3"/><circle cx="141.3" cy="159.1" r="2.05" fill="#fff" stroke="none"/><circle cx="140.4" cy="172.1" r="3.9" fill="#fff" fill-opacity="0.3"/><circle cx="140.4" cy="172.1" r="2.05" fill="#fff" stroke="none"/><circle cx="165.9" cy="163.5" r="3.9" fill="#fff" fill-opacity="0.3"/><circle cx="165.9" cy="163.5" r="2.05" fill="#fff" stroke="none"/><circle cx="56.7" cy="268.2" r="3.9" fill="#fff" fill-opacity="0.3"/><circle cx="56.7" cy="268.2" r="2.05" fill="#fff" stroke="none"/><circle cx="153.8" cy="177.4" r="3.9" fill="#fff" fill-opacity="0.3"/><circle cx="153.8" cy="177.4" r="2.05" fill="#fff" stroke="none"/><circle cx="87.0" cy="205.8" r="3.9" fill="#fff" fill-opacity="0.3"/><circle cx="87.0" cy="205.8" r="2.05" fill="#fff" stroke="none"/><circle cx="85.8" cy="256.3" r="3.9" fill="#fff" fill-opacity="0.3"/><circle cx="85.8" cy="256.3" r="2.05" fill="#fff" stroke="none"/><circle cx="98.0" cy="193.7" r="3.9" fill="#fff" fill-opacity="0.3"/><circle cx="98.0" cy="193.7" r="2.05" fill="#fff" stroke="none"/><circle cx="151.5" cy="156.8" r="3.9" fill="#fff" fill-opacity="0.3"/><circle cx="151.5" cy="156.8" r="2.05" fill="#fff" stroke="none"/><circle cx="56.0" cy="262.8" r="3.9" fill="#fff" fill-opacity="0.3"/><circle cx="56.0" cy="262.8" r="2.05" fill="#fff" stroke="none"/><circle cx="92.4" cy="199.9" r="3.9" fill="#fff" fill-opacity="0.3"/><circle cx="92.4" cy="199.9" r="2.05" fill="#fff" stroke="none"/><circle cx="119.9" cy="176.1" r="3.9" fill="#fff" fill-opacity="0.3"/><circle cx="119.9" cy="176.1" r="2.05" fill="#fff" stroke="none"/><circle cx="113.7" cy="172.0" r="3.9" fill="#fff" fill-opacity="0.3"/><circle cx="113.7" cy="172.0" r="2.05" fill="#fff" stroke="none"/><circle cx="111.4" cy="202.1" r="3.9" fill="#fff" fill-opacity="0.3"/><circle cx="111.4" cy="202.1" r="2.05" fill="#fff" stroke="none"/><circle cx="160.6" cy="174.0" r="3.9" fill="#fff" fill-opacity="0.3"/><circle cx="160.6" cy="174.0" r="2.05" fill="#fff" stroke="none"/><circle cx="83.4" cy="236.5" r="3.9" fill="#fff" fill-opacity="0.3"/><circle cx="83.4" cy="236.5" r="2.05" fill="#fff" stroke="none"/><circle cx="107.9" cy="215.6" r="3.9" fill="#fff" fill-opacity="0.3"/><circle cx="107.9" cy="215.6" r="2.05" fill="#fff" stroke="none"/><circle cx="143.7" cy="190.9" r="3.9" fill="#fff" fill-opacity="0.3"/><circle cx="143.7" cy="190.9" r="2.05" fill="#fff" stroke="none"/><circle cx="78.8" cy="248.0" r="3.9" fill="#fff" fill-opacity="0.3"/><circle cx="78.8" cy="248.0" r="2.05" fill="#fff" stroke="none"/><circle cx="141.8" cy="198.3" r="3.9" fill="#fff" fill-opacity="0.3"/><circle cx="141.8" cy="198.3" r="2.05" fill="#fff" stroke="none"/><circle cx="93.5" cy="225.9" r="3.9" fill="#fff" fill-opacity="0.3"/><circle cx="93.5" cy="225.9" r="2.05" fill="#fff" stroke="none"/><circle cx="125.0" cy="221.0" r="3.9" fill="#fff" fill-opacity="0.3"/><circle cx="125.0" cy="221.0" r="2.05" fill="#fff" stroke="none"/><circle cx="119.3" cy="220.4" r="3.9" fill="#fff" fill-opacity="0.3"/><circle cx="119.3" cy="220.4" r="2.05" fill="#fff" stroke="none"/><circle cx="109.7" cy="188.7" r="3.9" fill="#fff" fill-opacity="0.3"/><circle cx="109.7" cy="188.7" r="2.05" fill="#fff" stroke="none"/><circle cx="159.3" cy="147.9" r="3.9" fill="#fff" fill-opacity="0.3"/><circle cx="159.3" cy="147.9" r="2.05" fill="#fff" stroke="none"/><circle cx="139.5" cy="155.0" r="3.9" fill="#fff" fill-opacity="0.3"/><circle cx="139.5" cy="155.0" r="2.05" fill="#fff" stroke="none"/><circle cx="72.8" cy="269.9" r="3.9" fill="#fff" fill-opacity="0.3"/><circle cx="72.8" cy="269.9" r="2.05" fill="#fff" stroke="none"/><circle cx="75.4" cy="230.0" r="3.9" fill="#fff" fill-opacity="0.3"/><circle cx="75.4" cy="230.0" r="2.05" fill="#fff" stroke="none"/><circle cx="167.2" cy="140.6" r="3.9" fill="#fff" fill-opacity="0.3"/><circle cx="167.2" cy="140.6" r="2.05" fill="#fff" stroke="none"/><circle cx="79.9" cy="257.9" r="3.9" fill="#fff" fill-opacity="0.3"/><circle cx="79.9" cy="257.9" r="2.05" fill="#fff" stroke="none"/><circle cx="129.3" cy="156.9" r="3.9" fill="#fff" fill-opacity="0.3"/><circle cx="129.3" cy="156.9" r="2.05" fill="#fff" stroke="none"/><circle cx="99.2" cy="250.4" r="3.9" fill="#fff" fill-opacity="0.3"/><circle cx="99.2" cy="250.4" r="2.05" fill="#fff" stroke="none"/><circle cx="170.4" cy="151.4" r="3.9" fill="#fff" fill-opacity="0.3"/><circle cx="170.4" cy="151.4" r="2.05" fill="#fff" stroke="none"/><circle cx="91.8" cy="228.6" r="3.9" fill="#fff" fill-opacity="0.3"/><circle cx="91.8" cy="228.6" r="2.05" fill="#fff" stroke="none"/><circle cx="84.5" cy="214.5" r="3.9" fill="#fff" fill-opacity="0.3"/><circle cx="84.5" cy="214.5" r="2.05" fill="#fff" stroke="none"/><circle cx="149.3" cy="187.7" r="3.9" fill="#fff" fill-opacity="0.3"/><circle cx="149.3" cy="187.7" r="2.05" fill="#fff" stroke="none"/><circle cx="120.1" cy="166.6" r="3.9" fill="#fff" fill-opacity="0.3"/><circle cx="120.1" cy="166.6" r="2.05" fill="#fff" stroke="none"/><circle cx="101.8" cy="220.1" r="3.9" fill="#fff" fill-opacity="0.3"/><circle cx="101.8" cy="220.1" r="2.05" fill="#fff" stroke="none"/><circle cx="137.3" cy="182.8" r="3.9" fill="#fff" fill-opacity="0.3"/><circle cx="137.3" cy="182.8" r="2.05" fill="#fff" stroke="none"/><circle cx="147.5" cy="177.1" r="3.9" fill="#fff" fill-opacity="0.3"/><circle cx="147.5" cy="177.1" r="2.05" fill="#fff" stroke="none"/><circle cx="116.8" cy="187.9" r="3.9" fill="#fff" fill-opacity="0.3"/><circle cx="116.8" cy="187.9" r="2.05" fill="#fff" stroke="none"/><circle cx="115.8" cy="195.5" r="3.9" fill="#fff" fill-opacity="0.3"/><circle cx="115.8" cy="195.5" r="2.05" fill="#fff" stroke="none"/><circle cx="115.5" cy="224.1" r="3.9" fill="#fff" fill-opacity="0.3"/><circle cx="115.5" cy="224.1" r="2.05" fill="#fff" stroke="none"/><circle cx="92.5" cy="191.2" r="3.9" fill="#fff" fill-opacity="0.3"/><circle cx="92.5" cy="191.2" r="2.05" fill="#fff" stroke="none"/><circle cx="66.0" cy="245.1" r="3.9" fill="#fff" fill-opacity="0.3"/><circle cx="66.0" cy="245.1" r="2.05" fill="#fff" stroke="none"/><circle cx="149.7" cy="169.6" r="3.9" fill="#fff" fill-opacity="0.3"/><circle cx="149.7" cy="169.6" r="2.05" fill="#fff" stroke="none"/><circle cx="72.8" cy="244.1" r="3.9" fill="#fff" fill-opacity="0.3"/><circle cx="72.8" cy="244.1" r="2.05" fill="#fff" stroke="none"/><circle cx="87.2" cy="259.7" r="3.9" fill="#fff" fill-opacity="0.3"/><circle cx="87.2" cy="259.7" r="2.05" fill="#fff" stroke="none"/><circle cx="74.1" cy="259.0" r="3.9" fill="#fff" fill-opacity="0.3"/><circle cx="74.1" cy="259.0" r="2.05" fill="#fff" stroke="none"/><circle cx="63.3" cy="253.9" r="3.9" fill="#fff" fill-opacity="0.3"/><circle cx="63.3" cy="253.9" r="2.05" fill="#fff" stroke="none"/><circle cx="69.4" cy="254.2" r="3.9" fill="#fff" fill-opacity="0.3"/><circle cx="69.4" cy="254.2" r="2.05" fill="#fff" stroke="none"/><circle cx="100.3" cy="235.1" r="3.9" fill="#fff" fill-opacity="0.3"/><circle cx="100.3" cy="235.1" r="2.05" fill="#fff" stroke="none"/><circle cx="79.9" cy="245.5" r="3.9" fill="#fff" fill-opacity="0.3"/><circle cx="79.9" cy="245.5" r="2.05" fill="#fff" stroke="none"/><circle cx="75.8" cy="256.9" r="3.9" fill="#fff" fill-opacity="0.3"/><circle cx="75.8" cy="256.9" r="2.05" fill="#fff" stroke="none"/><circle cx="91.5" cy="249.8" r="3.9" fill="#fff" fill-opacity="0.3"/><circle cx="91.5" cy="249.8" r="2.05" fill="#fff" stroke="none"/><circle cx="119.5" cy="204.3" r="3.9" fill="#fff" fill-opacity="0.3"/><circle cx="119.5" cy="204.3" r="2.05" fill="#fff" stroke="none"/><circle cx="113.3" cy="218.3" r="3.9" fill="#fff" fill-opacity="0.3"/><circle cx="113.3" cy="218.3" r="2.05" fill="#fff" stroke="none"/><circle cx="107.8" cy="240.2" r="3.9" fill="#fff" fill-opacity="0.3"/><circle cx="107.8" cy="240.2" r="2.05" fill="#fff" stroke="none"/><circle cx="90.9" cy="248.2" r="3.9" fill="#fff" fill-opacity="0.3"/><circle cx="90.9" cy="248.2" r="2.05" fill="#fff" stroke="none"/><circle cx="48.6" cy="279.4" r="3.9" fill="#fff" fill-opacity="0.3"/><circle cx="48.6" cy="279.4" r="2.05" fill="#fff" stroke="none"/><circle cx="80.0" cy="255.8" r="3.9" fill="#fff" fill-opacity="0.3"/><circle cx="80.0" cy="255.8" r="2.05" fill="#fff" stroke="none"/><circle cx="108.7" cy="205.0" r="3.9" fill="#fff" fill-opacity="0.3"/><circle cx="108.7" cy="205.0" r="2.05" fill="#fff" stroke="none"/><circle cx="148.1" cy="145.9" r="3.9" fill="#fff" fill-opacity="0.3"/><circle cx="148.1" cy="145.9" r="2.05" fill="#fff" stroke="none"/><circle cx="109.4" cy="235.8" r="3.9" fill="#fff" fill-opacity="0.3"/><circle cx="109.4" cy="235.8" r="2.05" fill="#fff" stroke="none"/><circle cx="131.4" cy="196.1" r="3.9" fill="#fff" fill-opacity="0.3"/><circle cx="131.4" cy="196.1" r="2.05" fill="#fff" stroke="none"/><circle cx="120.3" cy="224.3" r="3.9" fill="#fff" fill-opacity="0.3"/><circle cx="120.3" cy="224.3" r="2.05" fill="#fff" stroke="none"/><circle cx="57.4" cy="257.9" r="3.9" fill="#fff" fill-opacity="0.3"/><circle cx="57.4" cy="257.9" r="2.05" fill="#fff" stroke="none"/><circle cx="156.4" cy="180.3" r="3.9" fill="#fff" fill-opacity="0.3"/><circle cx="156.4" cy="180.3" r="2.05" fill="#fff" stroke="none"/><circle cx="135.6" cy="164.9" r="3.9" fill="#fff" fill-opacity="0.3"/><circle cx="135.6" cy="164.9" r="2.05" fill="#fff" stroke="none"/><circle cx="99.2" cy="199.8" r="3.9" fill="#fff" fill-opacity="0.3"/><circle cx="99.2" cy="199.8" r="2.05" fill="#fff" stroke="none"/><circle cx="122.6" cy="184.8" r="3.9" fill="#fff" fill-opacity="0.3"/><circle cx="122.6" cy="184.8" r="2.05" fill="#fff" stroke="none"/><circle cx="76.2" cy="268.2" r="3.9" fill="#fff" fill-opacity="0.3"/><circle cx="76.2" cy="268.2" r="2.05" fill="#fff" stroke="none"/><circle cx="160.7" cy="151.2" r="3.9" fill="#fff" fill-opacity="0.3"/><circle cx="160.7" cy="151.2" r="2.05" fill="#fff" stroke="none"/><circle cx="91.6" cy="213.5" r="3.9" fill="#fff" fill-opacity="0.3"/><circle cx="91.6" cy="213.5" r="2.05" fill="#fff" stroke="none"/><circle cx="104.6" cy="189.4" r="3.9" fill="#fff" fill-opacity="0.3"/><circle cx="104.6" cy="189.4" r="2.05" fill="#fff" stroke="none"/><circle cx="136.9" cy="192.3" r="3.9" fill="#fff" fill-opacity="0.3"/><circle cx="136.9" cy="192.3" r="2.05" fill="#fff" stroke="none"/><circle cx="140.3" cy="174.5" r="3.9" fill="#fff" fill-opacity="0.3"/><circle cx="140.3" cy="174.5" r="2.05" fill="#fff" stroke="none"/><circle cx="89.1" cy="242.4" r="3.9" fill="#fff" fill-opacity="0.3"/><circle cx="89.1" cy="242.4" r="2.05" fill="#fff" stroke="none"/><circle cx="70.7" cy="236.8" r="3.9" fill="#fff" fill-opacity="0.3"/><circle cx="70.7" cy="236.8" r="2.05" fill="#fff" stroke="none"/><circle cx="176.6" cy="153.2" r="3.9" fill="#fff" fill-opacity="0.3"/><circle cx="176.6" cy="153.2" r="2.05" fill="#fff" stroke="none"/><circle cx="104.6" cy="195.8" r="3.9" fill="#fff" fill-opacity="0.3"/><circle cx="104.6" cy="195.8" r="2.05" fill="#fff" stroke="none"/><circle cx="86.5" cy="216.5" r="3.9" fill="#fff" fill-opacity="0.3"/><circle cx="86.5" cy="216.5" r="2.05" fill="#fff" stroke="none"/><circle cx="87.0" cy="231.8" r="3.9" fill="#fff" fill-opacity="0.3"/><circle cx="87.0" cy="231.8" r="2.05" fill="#fff" stroke="none"/><circle cx="146.8" cy="161.1" r="3.9" fill="#fff" fill-opacity="0.3"/><circle cx="146.8" cy="161.1" r="2.05" fill="#fff" stroke="none"/><circle cx="107.6" cy="229.2" r="3.9" fill="#fff" fill-opacity="0.3"/><circle cx="107.6" cy="229.2" r="2.05" fill="#fff" stroke="none"/><circle cx="120.7" cy="229.6" r="3.9" fill="#fff" fill-opacity="0.3"/><circle cx="120.7" cy="229.6" r="2.05" fill="#fff" stroke="none"/><circle cx="94.5" cy="242.3" r="3.9" fill="#fff" fill-opacity="0.3"/><circle cx="94.5" cy="242.3" r="2.05" fill="#fff" stroke="none"/><circle cx="63.5" cy="255.3" r="3.9" fill="#fff" fill-opacity="0.3"/><circle cx="63.5" cy="255.3" r="2.05" fill="#fff" stroke="none"/><circle cx="99.8" cy="231.2" r="3.9" fill="#fff" fill-opacity="0.3"/><circle cx="99.8" cy="231.2" r="2.05" fill="#fff" stroke="none"/><circle cx="168.8" cy="150.7" r="3.9" fill="#fff" fill-opacity="0.3"/><circle cx="168.8" cy="150.7" r="2.05" fill="#fff" stroke="none"/><circle cx="139.6" cy="185.5" r="3.9" fill="#fff" fill-opacity="0.3"/><circle cx="139.6" cy="185.5" r="2.05" fill="#fff" stroke="none"/><circle cx="92.2" cy="236.3" r="3.9" fill="#fff" fill-opacity="0.3"/><circle cx="92.2" cy="236.3" r="2.05" fill="#fff" stroke="none"/><circle cx="81.7" cy="216.4" r="3.9" fill="#fff" fill-opacity="0.3"/><circle cx="81.7" cy="216.4" r="2.05" fill="#fff" stroke="none"/><circle cx="69.6" cy="247.9" r="3.9" fill="#fff" fill-opacity="0.3"/><circle cx="69.6" cy="247.9" r="2.05" fill="#fff" stroke="none"/><circle cx="79.4" cy="223.9" r="3.9" fill="#fff" fill-opacity="0.3"/><circle cx="79.4" cy="223.9" r="2.05" fill="#fff" stroke="none"/><circle cx="67.3" cy="269.0" r="3.9" fill="#fff" fill-opacity="0.3"/><circle cx="67.3" cy="269.0" r="2.05" fill="#fff" stroke="none"/><circle cx="115.5" cy="230.0" r="3.9" fill="#fff" fill-opacity="0.3"/><circle cx="115.5" cy="230.0" r="2.05" fill="#fff" stroke="none"/><circle cx="99.6" cy="208.4" r="3.9" fill="#fff" fill-opacity="0.3"/><circle cx="99.6" cy="208.4" r="2.05" fill="#fff" stroke="none"/><circle cx="153.5" cy="151.0" r="3.9" fill="#fff" fill-opacity="0.3"/><circle cx="153.5" cy="151.0" r="2.05" fill="#fff" stroke="none"/><circle cx="56.4" cy="279.1" r="3.9" fill="#fff" fill-opacity="0.3"/><circle cx="56.4" cy="279.1" r="2.05" fill="#fff" stroke="none"/><circle cx="146.1" cy="156.7" r="3.9" fill="#fff" fill-opacity="0.3"/><circle cx="146.1" cy="156.7" r="2.05" fill="#fff" stroke="none"/><circle cx="120.9" cy="189.5" r="3.9" fill="#fff" fill-opacity="0.3"/><circle cx="120.9" cy="189.5" r="2.05" fill="#fff" stroke="none"/><circle cx="132.9" cy="213.1" r="3.9" fill="#fff" fill-opacity="0.3"/><circle cx="132.9" cy="213.1" r="2.05" fill="#fff" stroke="none"/><circle cx="80.5" cy="231.4" r="3.9" fill="#fff" fill-opacity="0.3"/><circle cx="80.5" cy="231.4" r="2.05" fill="#fff" stroke="none"/><circle cx="114.9" cy="237.0" r="3.9" fill="#fff" fill-opacity="0.3"/><circle cx="114.9" cy="237.0" r="2.05" fill="#fff" stroke="none"/><circle cx="110.5" cy="225.2" r="3.9" fill="#fff" fill-opacity="0.3"/><circle cx="110.5" cy="225.2" r="2.05" fill="#fff" stroke="none"/><circle cx="113.5" cy="181.6" r="3.9" fill="#fff" fill-opacity="0.3"/><circle cx="113.5" cy="181.6" r="2.05" fill="#fff" stroke="none"/><circle cx="79.1" cy="236.4" r="3.9" fill="#fff" fill-opacity="0.3"/><circle cx="79.1" cy="236.4" r="2.05" fill="#fff" stroke="none"/><circle cx="165.7" cy="171.2" r="3.9" fill="#fff" fill-opacity="0.3"/><circle cx="165.7" cy="171.2" r="2.05" fill="#fff" stroke="none"/><circle cx="107.9" cy="174.4" r="3.9" fill="#fff" fill-opacity="0.3"/><circle cx="107.9" cy="174.4" r="2.05" fill="#fff" stroke="none"/><circle cx="127.1" cy="209.3" r="3.9" fill="#fff" fill-opacity="0.3"/><circle cx="127.1" cy="209.3" r="2.05" fill="#fff" stroke="none"/><circle cx="58.7" cy="255.1" r="3.9" fill="#fff" fill-opacity="0.3"/><circle cx="58.7" cy="255.1" r="2.05" fill="#fff" stroke="none"/><circle cx="134.7" cy="154.8" r="3.9" fill="#fff" fill-opacity="0.3"/><circle cx="134.7" cy="154.8" r="2.05" fill="#fff" stroke="none"/><circle cx="111.5" cy="189.0" r="3.9" fill="#fff" fill-opacity="0.3"/><circle cx="111.5" cy="189.0" r="2.05" fill="#fff" stroke="none"/><circle cx="73.6" cy="265.4" r="3.9" fill="#fff" fill-opacity="0.3"/><circle cx="73.6" cy="265.4" r="2.05" fill="#fff" stroke="none"/><circle cx="57.9" cy="272.7" r="3.9" fill="#fff" fill-opacity="0.3"/><circle cx="57.9" cy="272.7" r="2.05" fill="#fff" stroke="none"/><circle cx="126.7" cy="164.7" r="3.9" fill="#fff" fill-opacity="0.3"/><circle cx="126.7" cy="164.7" r="2.05" fill="#fff" stroke="none"/><circle cx="175.4" cy="144.6" r="3.9" fill="#fff" fill-opacity="0.3"/><circle cx="175.4" cy="144.6" r="2.05" fill="#fff" stroke="none"/><circle cx="267.8" cy="23.7" r="3.9" fill="#fff"/><circle cx="258.7" cy="37.5" r="3.9" fill="#fff"/><circle cx="251.2" cy="48.9" r="3.9" fill="#fff"/><circle cx="232.3" cy="56.0" r="3.9" fill="#fff"/><circle cx="254.5" cy="65.2" r="3.9" fill="#fff"/><circle cx="235.6" cy="76.6" r="3.9" fill="#fff"/><circle cx="191.0" cy="101.0" r="3.9" fill="#fff"/><circle cx="165.9" cy="130.3" r="3.9" fill="#fff"/><circle cx="166.2" cy="128.9" r="3.9" fill="#fff"/><circle cx="141.8" cy="147.2" r="3.9" fill="#fff"/><circle cx="85.8" cy="181.1" r="3.9" fill="#fff"/><circle cx="77.7" cy="212.7" r="3.9" fill="#fff"/><circle cx="221.7" cy="88.9" r="3.9" fill="#fff"/><circle cx="229.8" cy="57.9" r="3.9" fill="#fff"/><circle cx="191.5" cy="91.3" r="3.9" fill="#fff"/><circle cx="191.5" cy="101.6" r="3.9" fill="#fff"/><circle cx="60.0" cy="240.0" r="3.9" fill="#fff"/><circle cx="70.0" cy="250.0" r="3.9" fill="#fff"/><circle cx="57.0" cy="262.0" r="3.9" fill="#fff"/></g><g stroke="#FFC000" stroke-opacity="0.6" stroke-width="3.6"><circle cx="53.8" cy="281.0" r="3.9" fill="#fff" fill-opacity="0.3"/><circle cx="53.8" cy="281.0" r="2.05" fill="#fff" stroke="none"/><circle cx="104.7" cy="230.2" r="3.9" fill="#fff" fill-opacity="0.3"/><circle cx="104.7" cy="230.2" r="2.05" fill="#fff" stroke="none"/><circle cx="95.6" cy="213.6" r="3.9" fill="#fff" fill-opacity="0.3"/><circle cx="95.6" cy="213.6" r="2.05" fill="#fff" stroke="none"/><circle cx="61.9" cy="282.6" r="3.9" fill="#fff" fill-opacity="0.3"/><circle cx="61.9" cy="282.6" r="2.05" fill="#fff" stroke="none"/><circle cx="124.2" cy="204.9" r="3.9" fill="#fff" fill-opacity="0.3"/><circle cx="124.2" cy="204.9" r="2.05" fill="#fff" stroke="none"/><circle cx="122.3" cy="219.2" r="3.9" fill="#fff" fill-opacity="0.3"/><circle cx="122.3" cy="219.2" r="2.05" fill="#fff" stroke="none"/><circle cx="63.6" cy="272.4" r="3.9" fill="#fff" fill-opacity="0.3"/><circle cx="63.6" cy="272.4" r="2.05" fill="#fff" stroke="none"/><circle cx="105.0" cy="214.6" r="3.9" fill="#fff" fill-opacity="0.3"/><circle cx="105.0" cy="214.6" r="2.05" fill="#fff" stroke="none"/><circle cx="114.7" cy="215.8" r="3.9" fill="#fff" fill-opacity="0.3"/><circle cx="114.7" cy="215.8" r="2.05" fill="#fff" stroke="none"/><circle cx="130.7" cy="213.7" r="3.9" fill="#fff" fill-opacity="0.3"/><circle cx="130.7" cy="213.7" r="2.05" fill="#fff" stroke="none"/><circle cx="130.2" cy="195.8" r="3.9" fill="#fff" fill-opacity="0.3"/><circle cx="130.2" cy="195.8" r="2.05" fill="#fff" stroke="none"/><circle cx="107.7" cy="190.9" r="3.9" fill="#fff" fill-opacity="0.3"/><circle cx="107.7" cy="190.9" r="2.05" fill="#fff" stroke="none"/><circle cx="137.4" cy="211.0" r="3.9" fill="#fff" fill-opacity="0.3"/><circle cx="137.4" cy="211.0" r="2.05" fill="#fff" stroke="none"/><circle cx="62.4" cy="255.1" r="3.9" fill="#fff" fill-opacity="0.3"/><circle cx="62.4" cy="255.1" r="2.05" fill="#fff" stroke="none"/><circle cx="128.1" cy="179.4" r="3.9" fill="#fff" fill-opacity="0.3"/><circle cx="128.1" cy="179.4" r="2.05" fill="#fff" stroke="none"/><circle cx="69.0" cy="267.7" r="3.9" fill="#fff" fill-opacity="0.3"/><circle cx="69.0" cy="267.7" r="2.05" fill="#fff" stroke="none"/><circle cx="139.9" cy="168.9" r="3.9" fill="#fff" fill-opacity="0.3"/><circle cx="139.9" cy="168.9" r="2.05" fill="#fff" stroke="none"/><circle cx="138.9" cy="175.2" r="3.9" fill="#fff" fill-opacity="0.3"/><circle cx="138.9" cy="175.2" r="2.05" fill="#fff" stroke="none"/><circle cx="165.9" cy="170.4" r="3.9" fill="#fff" fill-opacity="0.3"/><circle cx="165.9" cy="170.4" r="2.05" fill="#fff" stroke="none"/><circle cx="57.3" cy="277.6" r="3.9" fill="#fff" fill-opacity="0.3"/><circle cx="57.3" cy="277.6" r="2.05" fill="#fff" stroke="none"/><circle cx="152.5" cy="184.9" r="3.9" fill="#fff" fill-opacity="0.3"/><circle cx="152.5" cy="184.9" r="2.05" fill="#fff" stroke="none"/><circle cx="86.8" cy="212.5" r="3.9" fill="#fff" fill-opacity="0.3"/><circle cx="86.8" cy="212.5" r="2.05" fill="#fff" stroke="none"/><circle cx="84.9" cy="260.4" r="3.9" fill="#fff" fill-opacity="0.3"/><circle cx="84.9" cy="260.4" r="2.05" fill="#fff" stroke="none"/><circle cx="130.8" cy="186.5" r="3.9" fill="#fff" fill-opacity="0.3"/><circle cx="130.8" cy="186.5" r="2.05" fill="#fff" stroke="none"/><circle cx="152.5" cy="163.0" r="3.9" fill="#fff" fill-opacity="0.3"/><circle cx="152.5" cy="163.0" r="2.05" fill="#fff" stroke="none"/><circle cx="92.0" cy="209.0" r="3.9" fill="#fff" fill-opacity="0.3"/><circle cx="92.0" cy="209.0" r="2.05" fill="#fff" stroke="none"/><circle cx="112.3" cy="182.4" r="3.9" fill="#fff" fill-opacity="0.3"/><circle cx="112.3" cy="182.4" r="2.05" fill="#fff" stroke="none"/><circle cx="112.2" cy="208.4" r="3.9" fill="#fff" fill-opacity="0.3"/><circle cx="112.2" cy="208.4" r="2.05" fill="#fff" stroke="none"/><circle cx="161.1" cy="183.2" r="3.9" fill="#fff" fill-opacity="0.3"/><circle cx="161.1" cy="183.2" r="2.05" fill="#fff" stroke="none"/><circle cx="109.2" cy="222.2" r="3.9" fill="#fff" fill-opacity="0.3"/><circle cx="109.2" cy="222.2" r="2.05" fill="#fff" stroke="none"/><circle cx="143.0" cy="195.3" r="3.9" fill="#fff" fill-opacity="0.3"/><circle cx="143.0" cy="195.3" r="2.05" fill="#fff" stroke="none"/><circle cx="78.6" cy="257.6" r="3.9" fill="#fff" fill-opacity="0.3"/><circle cx="78.6" cy="257.6" r="2.05" fill="#fff" stroke="none"/><circle cx="142.0" cy="201.3" r="3.9" fill="#fff" fill-opacity="0.3"/><circle cx="142.0" cy="201.3" r="2.05" fill="#fff" stroke="none"/><circle cx="94.3" cy="233.1" r="3.9" fill="#fff" fill-opacity="0.3"/><circle cx="94.3" cy="233.1" r="2.05" fill="#fff" stroke="none"/><circle cx="124.8" cy="225.9" r="3.9" fill="#fff" fill-opacity="0.3"/><circle cx="124.8" cy="225.9" r="2.05" fill="#fff" stroke="none"/><circle cx="118.4" cy="225.3" r="3.9" fill="#fff" fill-opacity="0.3"/><circle cx="118.4" cy="225.3" r="2.05" fill="#fff" stroke="none"/><circle cx="109.0" cy="199.9" r="3.9" fill="#fff" fill-opacity="0.3"/><circle cx="109.0" cy="199.9" r="2.05" fill="#fff" stroke="none"/><circle cx="159.6" cy="154.5" r="3.9" fill="#fff" fill-opacity="0.3"/><circle cx="159.6" cy="154.5" r="2.05" fill="#fff" stroke="none"/><circle cx="139.6" cy="157.7" r="3.9" fill="#fff" fill-opacity="0.3"/><circle cx="139.6" cy="157.7" r="2.05" fill="#fff" stroke="none"/><circle cx="71.7" cy="275.8" r="3.9" fill="#fff" fill-opacity="0.3"/><circle cx="71.7" cy="275.8" r="2.05" fill="#fff" stroke="none"/><circle cx="75.7" cy="240.4" r="3.9" fill="#fff" fill-opacity="0.3"/><circle cx="75.7" cy="240.4" r="2.05" fill="#fff" stroke="none"/><circle cx="78.7" cy="269.6" r="3.9" fill="#fff" fill-opacity="0.3"/><circle cx="78.7" cy="269.6" r="2.05" fill="#fff" stroke="none"/><circle cx="130.4" cy="169.4" r="3.9" fill="#fff" fill-opacity="0.3"/><circle cx="130.4" cy="169.4" r="2.05" fill="#fff" stroke="none"/><circle cx="99.9" cy="257.8" r="3.9" fill="#fff" fill-opacity="0.3"/><circle cx="99.9" cy="257.8" r="2.05" fill="#fff" stroke="none"/><circle cx="172.0" cy="161.9" r="3.9" fill="#fff" fill-opacity="0.3"/><circle cx="172.0" cy="161.9" r="2.05" fill="#fff" stroke="none"/><circle cx="91.0" cy="235.8" r="3.9" fill="#fff" fill-opacity="0.3"/><circle cx="91.0" cy="235.8" r="2.05" fill="#fff" stroke="none"/><circle cx="85.1" cy="221.9" r="3.9" fill="#fff" fill-opacity="0.3"/><circle cx="85.1" cy="221.9" r="2.05" fill="#fff" stroke="none"/><circle cx="150.0" cy="195.8" r="3.9" fill="#fff" fill-opacity="0.3"/><circle cx="150.0" cy="195.8" r="2.05" fill="#fff" stroke="none"/><circle cx="90.8" cy="229.2" r="3.9" fill="#fff" fill-opacity="0.3"/><circle cx="90.8" cy="229.2" r="2.05" fill="#fff" stroke="none"/><circle cx="121.3" cy="173.7" r="3.9" fill="#fff" fill-opacity="0.3"/><circle cx="121.3" cy="173.7" r="2.05" fill="#fff" stroke="none"/><circle cx="101.9" cy="222.5" r="3.9" fill="#fff" fill-opacity="0.3"/><circle cx="101.9" cy="222.5" r="2.05" fill="#fff" stroke="none"/><circle cx="137.4" cy="188.6" r="3.9" fill="#fff" fill-opacity="0.3"/><circle cx="137.4" cy="188.6" r="2.05" fill="#fff" stroke="none"/><circle cx="146.5" cy="188.7" r="3.9" fill="#fff" fill-opacity="0.3"/><circle cx="146.5" cy="188.7" r="2.05" fill="#fff" stroke="none"/><circle cx="117.7" cy="192.5" r="3.9" fill="#fff" fill-opacity="0.3"/><circle cx="117.7" cy="192.5" r="2.05" fill="#fff" stroke="none"/><circle cx="115.9" cy="233.0" r="3.9" fill="#fff" fill-opacity="0.3"/><circle cx="115.9" cy="233.0" r="2.05" fill="#fff" stroke="none"/><circle cx="98.3" cy="194.4" r="3.9" fill="#fff" fill-opacity="0.3"/><circle cx="98.3" cy="194.4" r="2.05" fill="#fff" stroke="none"/><circle cx="93.8" cy="198.7" r="3.9" fill="#fff" fill-opacity="0.3"/><circle cx="93.8" cy="198.7" r="2.05" fill="#fff" stroke="none"/><circle cx="65.8" cy="251.7" r="3.9" fill="#fff" fill-opacity="0.3"/><circle cx="65.8" cy="251.7" r="2.05" fill="#fff" stroke="none"/><circle cx="66.9" cy="280.5" r="3.9" fill="#fff" fill-opacity="0.3"/><circle cx="66.9" cy="280.5" r="2.05" fill="#fff" stroke="none"/><circle cx="96.4" cy="225.3" r="3.9" fill="#fff" fill-opacity="0.3"/><circle cx="96.4" cy="225.3" r="2.05" fill="#fff" stroke="none"/><circle cx="72.5" cy="249.2" r="3.9" fill="#fff" fill-opacity="0.3"/><circle cx="72.5" cy="249.2" r="2.05" fill="#fff" stroke="none"/><circle cx="87.6" cy="266.9" r="3.9" fill="#fff" fill-opacity="0.3"/><circle cx="87.6" cy="266.9" r="2.05" fill="#fff" stroke="none"/><circle cx="75.7" cy="265.7" r="3.9" fill="#fff" fill-opacity="0.3"/><circle cx="75.7" cy="265.7" r="2.05" fill="#fff" stroke="none"/><circle cx="63.0" cy="257.7" r="3.9" fill="#fff" fill-opacity="0.3"/><circle cx="63.0" cy="257.7" r="2.05" fill="#fff" stroke="none"/><circle cx="69.1" cy="263.8" r="3.9" fill="#fff" fill-opacity="0.3"/><circle cx="69.1" cy="263.8" r="2.05" fill="#fff" stroke="none"/><circle cx="111.0" cy="220.2" r="3.9" fill="#fff" fill-opacity="0.3"/><circle cx="111.0" cy="220.2" r="2.05" fill="#fff" stroke="none"/><circle cx="99.0" cy="241.9" r="3.9" fill="#fff" fill-opacity="0.3"/><circle cx="99.0" cy="241.9" r="2.05" fill="#fff" stroke="none"/><circle cx="75.1" cy="260.5" r="3.9" fill="#fff" fill-opacity="0.3"/><circle cx="75.1" cy="260.5" r="2.05" fill="#fff" stroke="none"/><circle cx="91.8" cy="256.7" r="3.9" fill="#fff" fill-opacity="0.3"/><circle cx="91.8" cy="256.7" r="2.05" fill="#fff" stroke="none"/><circle cx="119.4" cy="215.1" r="3.9" fill="#fff" fill-opacity="0.3"/><circle cx="119.4" cy="215.1" r="2.05" fill="#fff" stroke="none"/><circle cx="113.7" cy="226.1" r="3.9" fill="#fff" fill-opacity="0.3"/><circle cx="113.7" cy="226.1" r="2.05" fill="#fff" stroke="none"/><circle cx="107.3" cy="244.8" r="3.9" fill="#fff" fill-opacity="0.3"/><circle cx="107.3" cy="244.8" r="2.05" fill="#fff" stroke="none"/><circle cx="89.4" cy="254.7" r="3.9" fill="#fff" fill-opacity="0.3"/><circle cx="89.4" cy="254.7" r="2.05" fill="#fff" stroke="none"/><circle cx="48.5" cy="289.0" r="3.9" fill="#fff" fill-opacity="0.3"/><circle cx="48.5" cy="289.0" r="2.05" fill="#fff" stroke="none"/><circle cx="148.3" cy="152.6" r="3.9" fill="#fff" fill-opacity="0.3"/><circle cx="148.3" cy="152.6" r="2.05" fill="#fff" stroke="none"/><circle cx="109.5" cy="241.5" r="3.9" fill="#fff" fill-opacity="0.3"/><circle cx="109.5" cy="241.5" r="2.05" fill="#fff" stroke="none"/><circle cx="131.5" cy="203.1" r="3.9" fill="#fff" fill-opacity="0.3"/><circle cx="131.5" cy="203.1" r="2.05" fill="#fff" stroke="none"/><circle cx="120.0" cy="230.9" r="3.9" fill="#fff" fill-opacity="0.3"/><circle cx="120.0" cy="230.9" r="2.05" fill="#fff" stroke="none"/><circle cx="102.0" cy="251.6" r="3.9" fill="#fff" fill-opacity="0.3"/><circle cx="102.0" cy="251.6" r="2.05" fill="#fff" stroke="none"/><circle cx="57.2" cy="263.7" r="3.9" fill="#fff" fill-opacity="0.3"/><circle cx="57.2" cy="263.7" r="2.05" fill="#fff" stroke="none"/><circle cx="155.5" cy="189.6" r="3.9" fill="#fff" fill-opacity="0.3"/><circle cx="155.5" cy="189.6" r="2.05" fill="#fff" stroke="none"/><circle cx="134.3" cy="168.8" r="3.9" fill="#fff" fill-opacity="0.3"/><circle cx="134.3" cy="168.8" r="2.05" fill="#fff" stroke="none"/><circle cx="99.0" cy="208.3" r="3.9" fill="#fff" fill-opacity="0.3"/><circle cx="99.0" cy="208.3" r="2.05" fill="#fff" stroke="none"/><circle cx="123.7" cy="194.1" r="3.9" fill="#fff" fill-opacity="0.3"/><circle cx="123.7" cy="194.1" r="2.05" fill="#fff" stroke="none"/><circle cx="76.8" cy="276.8" r="3.9" fill="#fff" fill-opacity="0.3"/><circle cx="76.8" cy="276.8" r="2.05" fill="#fff" stroke="none"/><circle cx="160.4" cy="161.8" r="3.9" fill="#fff" fill-opacity="0.3"/><circle cx="160.4" cy="161.8" r="2.05" fill="#fff" stroke="none"/><circle cx="103.7" cy="197.5" r="3.9" fill="#fff" fill-opacity="0.3"/><circle cx="103.7" cy="197.5" r="2.05" fill="#fff" stroke="none"/><circle cx="137.3" cy="201.6" r="3.9" fill="#fff" fill-opacity="0.3"/><circle cx="137.3" cy="201.6" r="2.05" fill="#fff" stroke="none"/><circle cx="140.2" cy="184.2" r="3.9" fill="#fff" fill-opacity="0.3"/><circle cx="140.2" cy="184.2" r="2.05" fill="#fff" stroke="none"/><circle cx="88.9" cy="249.9" r="3.9" fill="#fff" fill-opacity="0.3"/><circle cx="88.9" cy="249.9" r="2.05" fill="#fff" stroke="none"/><circle cx="71.3" cy="244.8" r="3.9" fill="#fff" fill-opacity="0.3"/><circle cx="71.3" cy="244.8" r="2.05" fill="#fff" stroke="none"/><circle cx="177.2" cy="158.1" r="3.9" fill="#fff" fill-opacity="0.3"/><circle cx="177.2" cy="158.1" r="2.05" fill="#fff" stroke="none"/><circle cx="103.8" cy="204.2" r="3.9" fill="#fff" fill-opacity="0.3"/><circle cx="103.8" cy="204.2" r="2.05" fill="#fff" stroke="none"/><circle cx="86.1" cy="223.9" r="3.9" fill="#fff" fill-opacity="0.3"/><circle cx="86.1" cy="223.9" r="2.05" fill="#fff" stroke="none"/><circle cx="86.4" cy="242.0" r="3.9" fill="#fff" fill-opacity="0.3"/><circle cx="86.4" cy="242.0" r="2.05" fill="#fff" stroke="none"/><circle cx="146.3" cy="172.2" r="3.9" fill="#fff" fill-opacity="0.3"/><circle cx="146.3" cy="172.2" r="2.05" fill="#fff" stroke="none"/><circle cx="108.2" cy="239.0" r="3.9" fill="#fff" fill-opacity="0.3"/><circle cx="108.2" cy="239.0" r="2.05" fill="#fff" stroke="none"/><circle cx="120.0" cy="235.0" r="3.9" fill="#fff" fill-opacity="0.3"/><circle cx="120.0" cy="235.0" r="2.05" fill="#fff" stroke="none"/><circle cx="93.7" cy="249.2" r="3.9" fill="#fff" fill-opacity="0.3"/><circle cx="93.7" cy="249.2" r="2.05" fill="#fff" stroke="none"/><circle cx="83.8" cy="254.5" r="3.9" fill="#fff" fill-opacity="0.3"/><circle cx="83.8" cy="254.5" r="2.05" fill="#fff" stroke="none"/><circle cx="63.6" cy="263.5" r="3.9" fill="#fff" fill-opacity="0.3"/><circle cx="63.6" cy="263.5" r="2.05" fill="#fff" stroke="none"/><circle cx="100.6" cy="235.1" r="3.9" fill="#fff" fill-opacity="0.3"/><circle cx="100.6" cy="235.1" r="2.05" fill="#fff" stroke="none"/><circle cx="168.4" cy="155.2" r="3.9" fill="#fff" fill-opacity="0.3"/><circle cx="168.4" cy="155.2" r="2.05" fill="#fff" stroke="none"/><circle cx="138.1" cy="195.0" r="3.9" fill="#fff" fill-opacity="0.3"/><circle cx="138.1" cy="195.0" r="2.05" fill="#fff" stroke="none"/><circle cx="92.9" cy="244.3" r="3.9" fill="#fff" fill-opacity="0.3"/><circle cx="92.9" cy="244.3" r="2.05" fill="#fff" stroke="none"/><circle cx="81.0" cy="227.5" r="3.9" fill="#fff" fill-opacity="0.3"/><circle cx="81.0" cy="227.5" r="2.05" fill="#fff" stroke="none"/><circle cx="133.7" cy="190.8" r="3.9" fill="#fff" fill-opacity="0.3"/><circle cx="133.7" cy="190.8" r="2.05" fill="#fff" stroke="none"/><circle cx="78.1" cy="232.0" r="3.9" fill="#fff" fill-opacity="0.3"/><circle cx="78.1" cy="232.0" r="2.05" fill="#fff" stroke="none"/><circle cx="123.1" cy="187.8" r="3.9" fill="#fff" fill-opacity="0.3"/><circle cx="123.1" cy="187.8" r="2.05" fill="#fff" stroke="none"/><circle cx="67.4" cy="273.6" r="3.9" fill="#fff" fill-opacity="0.3"/><circle cx="67.4" cy="273.6" r="2.05" fill="#fff" stroke="none"/><circle cx="114.2" cy="241.8" r="3.9" fill="#fff" fill-opacity="0.3"/><circle cx="114.2" cy="241.8" r="2.05" fill="#fff" stroke="none"/><circle cx="100.4" cy="214.7" r="3.9" fill="#fff" fill-opacity="0.3"/><circle cx="100.4" cy="214.7" r="2.05" fill="#fff" stroke="none"/><circle cx="113.2" cy="221.5" r="3.9" fill="#fff" fill-opacity="0.3"/><circle cx="113.2" cy="221.5" r="2.05" fill="#fff" stroke="none"/><circle cx="153.2" cy="156.6" r="3.9" fill="#fff" fill-opacity="0.3"/><circle cx="153.2" cy="156.6" r="2.05" fill="#fff" stroke="none"/><circle cx="122.4" cy="200.4" r="3.9" fill="#fff" fill-opacity="0.3"/><circle cx="122.4" cy="200.4" r="2.05" fill="#fff" stroke="none"/><circle cx="132.1" cy="221.4" r="3.9" fill="#fff" fill-opacity="0.3"/><circle cx="132.1" cy="221.4" r="2.05" fill="#fff" stroke="none"/><circle cx="114.0" cy="244.6" r="3.9" fill="#fff" fill-opacity="0.3"/><circle cx="114.0" cy="244.6" r="2.05" fill="#fff" stroke="none"/><circle cx="64.0" cy="277.4" r="3.9" fill="#fff" fill-opacity="0.3"/><circle cx="64.0" cy="277.4" r="2.05" fill="#fff" stroke="none"/><circle cx="109.7" cy="231.4" r="3.9" fill="#fff" fill-opacity="0.3"/><circle cx="109.7" cy="231.4" r="2.05" fill="#fff" stroke="none"/><circle cx="115.1" cy="189.0" r="3.9" fill="#fff" fill-opacity="0.3"/><circle cx="115.1" cy="189.0" r="2.05" fill="#fff" stroke="none"/><circle cx="79.5" cy="246.9" r="3.9" fill="#fff" fill-opacity="0.3"/><circle cx="79.5" cy="246.9" r="2.05" fill="#fff" stroke="none"/><circle cx="165.5" cy="178.4" r="3.9" fill="#fff" fill-opacity="0.3"/><circle cx="165.5" cy="178.4" r="2.05" fill="#fff" stroke="none"/><circle cx="51.3" cy="277.7" r="3.9" fill="#fff" fill-opacity="0.3"/><circle cx="51.3" cy="277.7" r="2.05" fill="#fff" stroke="none"/><circle cx="107.3" cy="181.5" r="3.9" fill="#fff" fill-opacity="0.3"/><circle cx="107.3" cy="181.5" r="2.05" fill="#fff" stroke="none"/><circle cx="102.3" cy="245.2" r="3.9" fill="#fff" fill-opacity="0.3"/><circle cx="102.3" cy="245.2" r="2.05" fill="#fff" stroke="none"/><circle cx="127.5" cy="218.7" r="3.9" fill="#fff" fill-opacity="0.3"/><circle cx="127.5" cy="218.7" r="2.05" fill="#fff" stroke="none"/><circle cx="147.3" cy="203.4" r="3.9" fill="#fff" fill-opacity="0.3"/><circle cx="147.3" cy="203.4" r="2.05" fill="#fff" stroke="none"/><circle cx="57.6" cy="260.3" r="3.9" fill="#fff" fill-opacity="0.3"/><circle cx="57.6" cy="260.3" r="2.05" fill="#fff" stroke="none"/><circle cx="133.5" cy="162.8" r="3.9" fill="#fff" fill-opacity="0.3"/><circle cx="133.5" cy="162.8" r="2.05" fill="#fff" stroke="none"/><circle cx="110.9" cy="194.1" r="3.9" fill="#fff" fill-opacity="0.3"/><circle cx="110.9" cy="194.1" r="2.05" fill="#fff" stroke="none"/><circle cx="58.2" cy="281.7" r="3.9" fill="#fff" fill-opacity="0.3"/><circle cx="58.2" cy="281.7" r="2.05" fill="#fff" stroke="none"/><circle cx="173.9" cy="149.8" r="3.9" fill="#fff" fill-opacity="0.3"/><circle cx="173.9" cy="149.8" r="2.05" fill="#fff" stroke="none"/><circle cx="46.0" cy="289.5" r="3.9" fill="#fff"/><circle cx="52.0" cy="290.5" r="3.9" fill="#fff"/><circle cx="58.0" cy="290.0" r="3.9" fill="#fff"/><circle cx="268.5" cy="51.5" r="3.9" fill="#fff"/><circle cx="257.7" cy="53.8" r="3.9" fill="#fff"/><circle cx="250.6" cy="76.6" r="3.9" fill="#fff"/><circle cx="242.1" cy="86.3" r="3.9" fill="#fff"/><circle cx="252.9" cy="88.6" r="3.9" fill="#fff"/><circle cx="235.6" cy="86.3" r="3.9" fill="#fff"/><circle cx="221.9" cy="109.2" r="3.9" fill="#fff"/><circle cx="217.0" cy="129.7" r="3.9" fill="#fff"/><circle cx="191.0" cy="88.0" r="3.9" fill="#fff"/><circle cx="184.4" cy="148.3" r="3.9" fill="#fff"/><circle cx="134.6" cy="151.3" r="3.9" fill="#fff"/><circle cx="113.2" cy="158.4" r="3.9" fill="#fff"/><circle cx="191.6" cy="161.5" r="3.9" fill="#fff"/><circle cx="191.1" cy="161.0" r="3.9" fill="#fff"/><circle cx="148.3" cy="208.7" r="3.9" fill="#fff"/><circle cx="137.3" cy="212.3" r="3.9" fill="#fff"/><circle cx="139.8" cy="238.0" r="3.9" fill="#fff"/><circle cx="130.0" cy="233.0" r="3.9" fill="#fff"/><circle cx="85.8" cy="177.6" r="3.9" fill="#fff"/><circle cx="113.3" cy="158.3" r="3.9" fill="#fff"/><circle cx="134.7" cy="151.6" r="3.9" fill="#fff"/><circle cx="192.2" cy="109.0" r="3.9" fill="#fff"/><circle cx="184.9" cy="148.9" r="3.9" fill="#fff"/><circle cx="193.2" cy="108.4" r="3.9" fill="#fff"/><circle cx="221.5" cy="109.8" r="3.9" fill="#fff"/><circle cx="216.7" cy="129.3" r="3.9" fill="#fff"/><circle cx="246.0" cy="72.0" r="3.9" fill="#fff"/><circle cx="262.0" cy="58.0" r="3.9" fill="#fff"/></g><g stroke="#4472C4" stroke-opacity="0.6" stroke-width="3.6" fill="none"><circle cx="63.2" cy="269.5" r="3.9"/><circle cx="70.2" cy="262.5" r="3.9"/><circle cx="48.4" cy="284.5" r="3.9"/><circle cx="64.7" cy="265.5" r="3.9"/><circle cx="56.8" cy="272.0" r="3.9"/><circle cx="57.7" cy="267.8" r="3.9"/><circle cx="56.6" cy="277.6" r="3.9"/><circle cx="53.3" cy="277.4" r="3.9"/><circle cx="59.3" cy="265.7" r="3.9"/><circle cx="65.4" cy="260.7" r="3.9"/><circle cx="71.8" cy="258.4" r="3.9"/><circle cx="69.4" cy="260.8" r="3.9"/><circle cx="55.2" cy="279.0" r="3.9"/><circle cx="71.6" cy="258.8" r="3.9"/><circle cx="53.9" cy="272.6" r="3.9"/><circle cx="48.2" cy="282.0" r="3.9"/><circle cx="49.1" cy="282.1" r="3.9"/><circle cx="56.7" cy="275.5" r="3.9"/><circle cx="54.8" cy="276.4" r="3.9"/><circle cx="52.1" cy="279.2" r="3.9"/><circle cx="66.6" cy="262.6" r="3.9"/><circle cx="64.5" cy="264.5" r="3.9"/><circle cx="45.5" cy="281.2" r="3.9"/><circle cx="67.2" cy="261.4" r="3.9"/><circle cx="71.1" cy="259.9" r="3.9"/><circle cx="56.0" cy="275.9" r="3.9"/><circle cx="51.9" cy="281.9" r="3.9"/><circle cx="64.1" cy="264.6" r="3.9"/><circle cx="49.1" cy="281.4" r="3.9"/><circle cx="67.2" cy="263.1" r="3.9"/><circle cx="58.9" cy="269.0" r="3.9"/><circle cx="49.4" cy="277.0" r="3.9"/><circle cx="66.1" cy="264.8" r="3.9"/><circle cx="52.0" cy="282.0" r="3.9"/><circle cx="55.4" cy="273.7" r="3.9"/><circle cx="65.9" cy="262.8" r="3.9"/><circle cx="51.7" cy="279.3" r="3.9"/><circle cx="60.9" cy="269.3" r="3.9"/><circle cx="66.8" cy="266.1" r="3.9"/><circle cx="63.0" cy="263.8" r="3.9"/></g><g stroke="#4472C4" stroke-opacity="0.6" stroke-width="3.6"><circle cx="159.3" cy="173.4" r="3.9" fill="#fff" fill-opacity="0.3"/><circle cx="159.3" cy="173.4" r="2.05" fill="#fff" stroke="none"/><circle cx="53.1" cy="278.3" r="3.9" fill="#fff" fill-opacity="0.3"/><circle cx="53.1" cy="278.3" r="2.05" fill="#fff" stroke="none"/><circle cx="103.7" cy="226.6" r="3.9" fill="#fff" fill-opacity="0.3"/><circle cx="103.7" cy="226.6" r="2.05" fill="#fff" stroke="none"/><circle cx="95.0" cy="209.7" r="3.9" fill="#fff" fill-opacity="0.3"/><circle cx="95.0" cy="209.7" r="2.05" fill="#fff" stroke="none"/><circle cx="61.3" cy="281.2" r="3.9" fill="#fff" fill-opacity="0.3"/><circle cx="61.3" cy="281.2" r="2.05" fill="#fff" stroke="none"/><circle cx="124.7" cy="201.8" r="3.9" fill="#fff" fill-opacity="0.3"/><circle cx="124.7" cy="201.8" r="2.05" fill="#fff" stroke="none"/><circle cx="122.1" cy="216.1" r="3.9" fill="#fff" fill-opacity="0.3"/><circle cx="122.1" cy="216.1" r="2.05" fill="#fff" stroke="none"/><circle cx="64.3" cy="267.3" r="3.9" fill="#fff" fill-opacity="0.3"/><circle cx="64.3" cy="267.3" r="2.05" fill="#fff" stroke="none"/><circle cx="105.2" cy="213.2" r="3.9" fill="#fff" fill-opacity="0.3"/><circle cx="105.2" cy="213.2" r="2.05" fill="#fff" stroke="none"/><circle cx="114.4" cy="211.5" r="3.9" fill="#fff" fill-opacity="0.3"/><circle cx="114.4" cy="211.5" r="2.05" fill="#fff" stroke="none"/><circle cx="130.8" cy="207.9" r="3.9" fill="#fff" fill-opacity="0.3"/><circle cx="130.8" cy="207.9" r="2.05" fill="#fff" stroke="none"/><circle cx="129.4" cy="192.8" r="3.9" fill="#fff" fill-opacity="0.3"/><circle cx="129.4" cy="192.8" r="2.05" fill="#fff" stroke="none"/><circle cx="129.5" cy="219.8" r="3.9" fill="#fff" fill-opacity="0.3"/><circle cx="129.5" cy="219.8" r="2.05" fill="#fff" stroke="none"/><circle cx="107.4" cy="186.1" r="3.9" fill="#fff" fill-opacity="0.3"/><circle cx="107.4" cy="186.1" r="2.05" fill="#fff" stroke="none"/><circle cx="137.8" cy="206.7" r="3.9" fill="#fff" fill-opacity="0.3"/><circle cx="137.8" cy="206.7" r="2.05" fill="#fff" stroke="none"/><circle cx="62.2" cy="250.3" r="3.9" fill="#fff" fill-opacity="0.3"/><circle cx="62.2" cy="250.3" r="2.05" fill="#fff" stroke="none"/><circle cx="128.3" cy="175.6" r="3.9" fill="#fff" fill-opacity="0.3"/><circle cx="128.3" cy="175.6" r="2.05" fill="#fff" stroke="none"/><circle cx="69.2" cy="265.9" r="3.9" fill="#fff" fill-opacity="0.3"/><circle cx="69.2" cy="265.9" r="2.05" fill="#fff" stroke="none"/><circle cx="140.4" cy="165.0" r="3.9" fill="#fff" fill-opacity="0.3"/><circle cx="140.4" cy="165.0" r="2.05" fill="#fff" stroke="none"/><circle cx="139.6" cy="173.8" r="3.9" fill="#fff" fill-opacity="0.3"/><circle cx="139.6" cy="173.8" r="2.05" fill="#fff" stroke="none"/><circle cx="165.7" cy="167.3" r="3.9" fill="#fff" fill-opacity="0.3"/><circle cx="165.7" cy="167.3" r="2.05" fill="#fff" stroke="none"/><circle cx="57.4" cy="272.6" r="3.9" fill="#fff" fill-opacity="0.3"/><circle cx="57.4" cy="272.6" r="2.05" fill="#fff" stroke="none"/><circle cx="153.3" cy="180.5" r="3.9" fill="#fff" fill-opacity="0.3"/><circle cx="153.3" cy="180.5" r="2.05" fill="#fff" stroke="none"/><circle cx="86.3" cy="208.5" r="3.9" fill="#fff" fill-opacity="0.3"/><circle cx="86.3" cy="208.5" r="2.05" fill="#fff" stroke="none"/><circle cx="85.8" cy="257.5" r="3.9" fill="#fff" fill-opacity="0.3"/><circle cx="85.8" cy="257.5" r="2.05" fill="#fff" stroke="none"/><circle cx="130.1" cy="181.1" r="3.9" fill="#fff" fill-opacity="0.3"/><circle cx="130.1" cy="181.1" r="2.05" fill="#fff" stroke="none"/><circle cx="98.7" cy="195.1" r="3.9" fill="#fff" fill-opacity="0.3"/><circle cx="98.7" cy="195.1" r="2.05" fill="#fff" stroke="none"/><circle cx="151.9" cy="161.8" r="3.9" fill="#fff" fill-opacity="0.3"/><circle cx="151.9" cy="161.8" r="2.05" fill="#fff" stroke="none"/><circle cx="56.2" cy="266.7" r="3.9" fill="#fff" fill-opacity="0.3"/><circle cx="56.2" cy="266.7" r="2.05" fill="#fff" stroke="none"/><circle cx="92.6" cy="203.5" r="3.9" fill="#fff" fill-opacity="0.3"/><circle cx="92.6" cy="203.5" r="2.05" fill="#fff" stroke="none"/><circle cx="119.6" cy="180.1" r="3.9" fill="#fff" fill-opacity="0.3"/><circle cx="119.6" cy="180.1" r="2.05" fill="#fff" stroke="none"/><circle cx="112.8" cy="178.5" r="3.9" fill="#fff" fill-opacity="0.3"/><circle cx="112.8" cy="178.5" r="2.05" fill="#fff" stroke="none"/><circle cx="111.9" cy="204.1" r="3.9" fill="#fff" fill-opacity="0.3"/><circle cx="111.9" cy="204.1" r="2.05" fill="#fff" stroke="none"/><circle cx="160.6" cy="180.6" r="3.9" fill="#fff" fill-opacity="0.3"/><circle cx="160.6" cy="180.6" r="2.05" fill="#fff" stroke="none"/><circle cx="83.8" cy="241.9" r="3.9" fill="#fff" fill-opacity="0.3"/><circle cx="83.8" cy="241.9" r="2.05" fill="#fff" stroke="none"/><circle cx="108.3" cy="221.0" r="3.9" fill="#fff" fill-opacity="0.3"/><circle cx="108.3" cy="221.0" r="2.05" fill="#fff" stroke="none"/><circle cx="143.7" cy="193.2" r="3.9" fill="#fff" fill-opacity="0.3"/><circle cx="143.7" cy="193.2" r="2.05" fill="#fff" stroke="none"/><circle cx="77.8" cy="252.8" r="3.9" fill="#fff" fill-opacity="0.3"/><circle cx="77.8" cy="252.8" r="2.05" fill="#fff" stroke="none"/><circle cx="142.3" cy="199.7" r="3.9" fill="#fff" fill-opacity="0.3"/><circle cx="142.3" cy="199.7" r="2.05" fill="#fff" stroke="none"/><circle cx="94.5" cy="228.4" r="3.9" fill="#fff" fill-opacity="0.3"/><circle cx="94.5" cy="228.4" r="2.05" fill="#fff" stroke="none"/><circle cx="124.0" cy="224.4" r="3.9" fill="#fff" fill-opacity="0.3"/><circle cx="124.0" cy="224.4" r="2.05" fill="#fff" stroke="none"/><circle cx="119.4" cy="221.4" r="3.9" fill="#fff" fill-opacity="0.3"/><circle cx="119.4" cy="221.4" r="2.05" fill="#fff" stroke="none"/><circle cx="109.6" cy="195.6" r="3.9" fill="#fff" fill-opacity="0.3"/><circle cx="109.6" cy="195.6" r="2.05" fill="#fff" stroke="none"/><circle cx="158.6" cy="150.0" r="3.9" fill="#fff" fill-opacity="0.3"/><circle cx="158.6" cy="150.0" r="2.05" fill="#fff" stroke="none"/><circle cx="140.0" cy="156.1" r="3.9" fill="#fff" fill-opacity="0.3"/><circle cx="140.0" cy="156.1" r="2.05" fill="#fff" stroke="none"/><circle cx="71.8" cy="272.3" r="3.9" fill="#fff" fill-opacity="0.3"/><circle cx="71.8" cy="272.3" r="2.05" fill="#fff" stroke="none"/><circle cx="75.2" cy="236.6" r="3.9" fill="#fff" fill-opacity="0.3"/><circle cx="75.2" cy="236.6" r="2.05" fill="#fff" stroke="none"/><circle cx="168.0" cy="146.4" r="3.9" fill="#fff" fill-opacity="0.3"/><circle cx="168.0" cy="146.4" r="2.05" fill="#fff" stroke="none"/><circle cx="79.7" cy="264.4" r="3.9" fill="#fff" fill-opacity="0.3"/><circle cx="79.7" cy="264.4" r="2.05" fill="#fff" stroke="none"/><circle cx="129.6" cy="163.7" r="3.9" fill="#fff" fill-opacity="0.3"/><circle cx="129.6" cy="163.7" r="2.05" fill="#fff" stroke="none"/><circle cx="98.9" cy="253.8" r="3.9" fill="#fff" fill-opacity="0.3"/><circle cx="98.9" cy="253.8" r="2.05" fill="#fff" stroke="none"/><circle cx="171.1" cy="158.1" r="3.9" fill="#fff" fill-opacity="0.3"/><circle cx="171.1" cy="158.1" r="2.05" fill="#fff" stroke="none"/><circle cx="91.3" cy="233.8" r="3.9" fill="#fff" fill-opacity="0.3"/><circle cx="91.3" cy="233.8" r="2.05" fill="#fff" stroke="none"/><circle cx="84.3" cy="216.0" r="3.9" fill="#fff" fill-opacity="0.3"/><circle cx="84.3" cy="216.0" r="2.05" fill="#fff" stroke="none"/><circle cx="149.6" cy="193.3" r="3.9" fill="#fff" fill-opacity="0.3"/><circle cx="149.6" cy="193.3" r="2.05" fill="#fff" stroke="none"/><circle cx="89.9" cy="224.9" r="3.9" fill="#fff" fill-opacity="0.3"/><circle cx="89.9" cy="224.9" r="2.05" fill="#fff" stroke="none"/><circle cx="120.6" cy="171.0" r="3.9" fill="#fff" fill-opacity="0.3"/><circle cx="120.6" cy="171.0" r="2.05" fill="#fff" stroke="none"/><circle cx="101.2" cy="221.1" r="3.9" fill="#fff" fill-opacity="0.3"/><circle cx="101.2" cy="221.1" r="2.05" fill="#fff" stroke="none"/><circle cx="136.8" cy="184.0" r="3.9" fill="#fff" fill-opacity="0.3"/><circle cx="136.8" cy="184.0" r="2.05" fill="#fff" stroke="none"/><circle cx="147.0" cy="182.8" r="3.9" fill="#fff" fill-opacity="0.3"/><circle cx="147.0" cy="182.8" r="2.05" fill="#fff" stroke="none"/><circle cx="117.3" cy="191.3" r="3.9" fill="#fff" fill-opacity="0.3"/><circle cx="117.3" cy="191.3" r="2.05" fill="#fff" stroke="none"/><circle cx="116.2" cy="200.4" r="3.9" fill="#fff" fill-opacity="0.3"/><circle cx="116.2" cy="200.4" r="2.05" fill="#fff" stroke="none"/><circle cx="115.2" cy="230.1" r="3.9" fill="#fff" fill-opacity="0.3"/><circle cx="115.2" cy="230.1" r="2.05" fill="#fff" stroke="none"/><circle cx="98.8" cy="188.8" r="3.9" fill="#fff" fill-opacity="0.3"/><circle cx="98.8" cy="188.8" r="2.05" fill="#fff" stroke="none"/><circle cx="93.0" cy="195.8" r="3.9" fill="#fff" fill-opacity="0.3"/><circle cx="93.0" cy="195.8" r="2.05" fill="#fff" stroke="none"/><circle cx="66.7" cy="248.7" r="3.9" fill="#fff" fill-opacity="0.3"/><circle cx="66.7" cy="248.7" r="2.05" fill="#fff" stroke="none"/><circle cx="66.8" cy="277.8" r="3.9" fill="#fff" fill-opacity="0.3"/><circle cx="66.8" cy="277.8" r="2.05" fill="#fff" stroke="none"/><circle cx="150.2" cy="174.2" r="3.9" fill="#fff" fill-opacity="0.3"/><circle cx="150.2" cy="174.2" r="2.05" fill="#fff" stroke="none"/><circle cx="96.4" cy="219.5" r="3.9" fill="#fff" fill-opacity="0.3"/><circle cx="96.4" cy="219.5" r="2.05" fill="#fff" stroke="none"/><circle cx="73.2" cy="245.3" r="3.9" fill="#fff" fill-opacity="0.3"/><circle cx="73.2" cy="245.3" r="2.05" fill="#fff" stroke="none"/><circle cx="87.0" cy="263.5" r="3.9" fill="#fff" fill-opacity="0.3"/><circle cx="87.0" cy="263.5" r="2.05" fill="#fff" stroke="none"/><circle cx="74.9" cy="263.1" r="3.9" fill="#fff" fill-opacity="0.3"/><circle cx="74.9" cy="263.1" r="2.05" fill="#fff" stroke="none"/><circle cx="62.8" cy="255.7" r="3.9" fill="#fff" fill-opacity="0.3"/><circle cx="62.8" cy="255.7" r="2.05" fill="#fff" stroke="none"/><circle cx="83.8" cy="228.4" r="3.9" fill="#fff" fill-opacity="0.3"/><circle cx="83.8" cy="228.4" r="2.05" fill="#fff" stroke="none"/><circle cx="69.4" cy="258.3" r="3.9" fill="#fff" fill-opacity="0.3"/><circle cx="69.4" cy="258.3" r="2.05" fill="#fff" stroke="none"/><circle cx="110.2" cy="214.7" r="3.9" fill="#fff" fill-opacity="0.3"/><circle cx="110.2" cy="214.7" r="2.05" fill="#fff" stroke="none"/><circle cx="100.0" cy="238.2" r="3.9" fill="#fff" fill-opacity="0.3"/><circle cx="100.0" cy="238.2" r="2.05" fill="#fff" stroke="none"/><circle cx="79.0" cy="248.4" r="3.9" fill="#fff" fill-opacity="0.3"/><circle cx="79.0" cy="248.4" r="2.05" fill="#fff" stroke="none"/><circle cx="74.9" cy="258.4" r="3.9" fill="#fff" fill-opacity="0.3"/><circle cx="74.9" cy="258.4" r="2.05" fill="#fff" stroke="none"/><circle cx="92.3" cy="254.5" r="3.9" fill="#fff" fill-opacity="0.3"/><circle cx="92.3" cy="254.5" r="2.05" fill="#fff" stroke="none"/><circle cx="120.1" cy="209.7" r="3.9" fill="#fff" fill-opacity="0.3"/><circle cx="120.1" cy="209.7" r="2.05" fill="#fff" stroke="none"/><circle cx="114.1" cy="223.6" r="3.9" fill="#fff" fill-opacity="0.3"/><circle cx="114.1" cy="223.6" r="2.05" fill="#fff" stroke="none"/><circle cx="107.6" cy="243.1" r="3.9" fill="#fff" fill-opacity="0.3"/><circle cx="107.6" cy="243.1" r="2.05" fill="#fff" stroke="none"/><circle cx="90.0" cy="249.9" r="3.9" fill="#fff" fill-opacity="0.3"/><circle cx="90.0" cy="249.9" r="2.05" fill="#fff" stroke="none"/><circle cx="49.2" cy="283.1" r="3.9" fill="#fff" fill-opacity="0.3"/><circle cx="49.2" cy="283.1" r="2.05" fill="#fff" stroke="none"/><circle cx="80.9" cy="258.5" r="3.9" fill="#fff" fill-opacity="0.3"/><circle cx="80.9" cy="258.5" r="2.05" fill="#fff" stroke="none"/><circle cx="109.3" cy="209.3" r="3.9" fill="#fff" fill-opacity="0.3"/><circle cx="109.3" cy="209.3" r="2.05" fill="#fff" stroke="none"/><circle cx="148.1" cy="151.0" r="3.9" fill="#fff" fill-opacity="0.3"/><circle cx="148.1" cy="151.0" r="2.05" fill="#fff" stroke="none"/><circle cx="110.2" cy="238.3" r="3.9" fill="#fff" fill-opacity="0.3"/><circle cx="110.2" cy="238.3" r="2.05" fill="#fff" stroke="none"/><circle cx="131.3" cy="199.0" r="3.9" fill="#fff" fill-opacity="0.3"/><circle cx="131.3" cy="199.0" r="2.05" fill="#fff" stroke="none"/><circle cx="119.4" cy="226.8" r="3.9" fill="#fff" fill-opacity="0.3"/><circle cx="119.4" cy="226.8" r="2.05" fill="#fff" stroke="none"/><circle cx="101.8" cy="246.8" r="3.9" fill="#fff" fill-opacity="0.3"/><circle cx="101.8" cy="246.8" r="2.05" fill="#fff" stroke="none"/><circle cx="58.0" cy="261.9" r="3.9" fill="#fff" fill-opacity="0.3"/><circle cx="58.0" cy="261.9" r="2.05" fill="#fff" stroke="none"/><circle cx="156.1" cy="186.0" r="3.9" fill="#fff" fill-opacity="0.3"/><circle cx="156.1" cy="186.0" r="2.05" fill="#fff" stroke="none"/><circle cx="154.9" cy="167.5" r="3.9" fill="#fff" fill-opacity="0.3"/><circle cx="154.9" cy="167.5" r="2.05" fill="#fff" stroke="none"/><circle cx="134.7" cy="167.4" r="3.9" fill="#fff" fill-opacity="0.3"/><circle cx="134.7" cy="167.4" r="2.05" fill="#fff" stroke="none"/><circle cx="99.1" cy="203.9" r="3.9" fill="#fff" fill-opacity="0.3"/><circle cx="99.1" cy="203.9" r="2.05" fill="#fff" stroke="none"/><circle cx="123.6" cy="191.3" r="3.9" fill="#fff" fill-opacity="0.3"/><circle cx="123.6" cy="191.3" r="2.05" fill="#fff" stroke="none"/><circle cx="76.6" cy="271.8" r="3.9" fill="#fff" fill-opacity="0.3"/><circle cx="76.6" cy="271.8" r="2.05" fill="#fff" stroke="none"/><circle cx="160.5" cy="157.7" r="3.9" fill="#fff" fill-opacity="0.3"/><circle cx="160.5" cy="157.7" r="2.05" fill="#fff" stroke="none"/><circle cx="92.3" cy="215.5" r="3.9" fill="#fff" fill-opacity="0.3"/><circle cx="92.3" cy="215.5" r="2.05" fill="#fff" stroke="none"/><circle cx="103.8" cy="192.8" r="3.9" fill="#fff" fill-opacity="0.3"/><circle cx="103.8" cy="192.8" r="2.05" fill="#fff" stroke="none"/><circle cx="137.4" cy="196.2" r="3.9" fill="#fff" fill-opacity="0.3"/><circle cx="137.4" cy="196.2" r="2.05" fill="#fff" stroke="none"/><circle cx="140.8" cy="180.0" r="3.9" fill="#fff" fill-opacity="0.3"/><circle cx="140.8" cy="180.0" r="2.05" fill="#fff" stroke="none"/><circle cx="89.1" cy="244.8" r="3.9" fill="#fff" fill-opacity="0.3"/><circle cx="89.1" cy="244.8" r="2.05" fill="#fff" stroke="none"/><circle cx="70.7" cy="240.1" r="3.9" fill="#fff" fill-opacity="0.3"/><circle cx="70.7" cy="240.1" r="2.05" fill="#fff" stroke="none"/><circle cx="176.5" cy="154.8" r="3.9" fill="#fff" fill-opacity="0.3"/><circle cx="176.5" cy="154.8" r="2.05" fill="#fff" stroke="none"/><circle cx="104.3" cy="200.8" r="3.9" fill="#fff" fill-opacity="0.3"/><circle cx="104.3" cy="200.8" r="2.05" fill="#fff" stroke="none"/><circle cx="86.1" cy="220.6" r="3.9" fill="#fff" fill-opacity="0.3"/><circle cx="86.1" cy="220.6" r="2.05" fill="#fff" stroke="none"/><circle cx="86.9" cy="236.4" r="3.9" fill="#fff" fill-opacity="0.3"/><circle cx="86.9" cy="236.4" r="2.05" fill="#fff" stroke="none"/><circle cx="146.1" cy="167.6" r="3.9" fill="#fff" fill-opacity="0.3"/><circle cx="146.1" cy="167.6" r="2.05" fill="#fff" stroke="none"/><circle cx="107.5" cy="234.1" r="3.9" fill="#fff" fill-opacity="0.3"/><circle cx="107.5" cy="234.1" r="2.05" fill="#fff" stroke="none"/><circle cx="119.9" cy="232.0" r="3.9" fill="#fff" fill-opacity="0.3"/><circle cx="119.9" cy="232.0" r="2.05" fill="#fff" stroke="none"/><circle cx="94.5" cy="245.6" r="3.9" fill="#fff" fill-opacity="0.3"/><circle cx="94.5" cy="245.6" r="2.05" fill="#fff" stroke="none"/><circle cx="84.2" cy="251.0" r="3.9" fill="#fff" fill-opacity="0.3"/><circle cx="84.2" cy="251.0" r="2.05" fill="#fff" stroke="none"/><circle cx="63.5" cy="261.2" r="3.9" fill="#fff" fill-opacity="0.3"/><circle cx="63.5" cy="261.2" r="2.05" fill="#fff" stroke="none"/><circle cx="100.7" cy="233.0" r="3.9" fill="#fff" fill-opacity="0.3"/><circle cx="100.7" cy="233.0" r="2.05" fill="#fff" stroke="none"/><circle cx="168.2" cy="152.5" r="3.9" fill="#fff" fill-opacity="0.3"/><circle cx="168.2" cy="152.5" r="2.05" fill="#fff" stroke="none"/><circle cx="138.8" cy="190.5" r="3.9" fill="#fff" fill-opacity="0.3"/><circle cx="138.8" cy="190.5" r="2.05" fill="#fff" stroke="none"/><circle cx="93.2" cy="240.7" r="3.9" fill="#fff" fill-opacity="0.3"/><circle cx="93.2" cy="240.7" r="2.05" fill="#fff" stroke="none"/><circle cx="80.8" cy="223.4" r="3.9" fill="#fff" fill-opacity="0.3"/><circle cx="80.8" cy="223.4" r="2.05" fill="#fff" stroke="none"/><circle cx="133.2" cy="188.5" r="3.9" fill="#fff" fill-opacity="0.3"/><circle cx="133.2" cy="188.5" r="2.05" fill="#fff" stroke="none"/><circle cx="70.0" cy="252.0" r="3.9" fill="#fff" fill-opacity="0.3"/><circle cx="70.0" cy="252.0" r="2.05" fill="#fff" stroke="none"/><circle cx="78.6" cy="228.4" r="3.9" fill="#fff" fill-opacity="0.3"/><circle cx="78.6" cy="228.4" r="2.05" fill="#fff" stroke="none"/><circle cx="123.7" cy="184.6" r="3.9" fill="#fff" fill-opacity="0.3"/><circle cx="123.7" cy="184.6" r="2.05" fill="#fff" stroke="none"/><circle cx="67.1" cy="272.5" r="3.9" fill="#fff" fill-opacity="0.3"/><circle cx="67.1" cy="272.5" r="2.05" fill="#fff" stroke="none"/><circle cx="114.9" cy="236.3" r="3.9" fill="#fff" fill-opacity="0.3"/><circle cx="114.9" cy="236.3" r="2.05" fill="#fff" stroke="none"/><circle cx="99.9" cy="213.6" r="3.9" fill="#fff" fill-opacity="0.3"/><circle cx="99.9" cy="213.6" r="2.05" fill="#fff" stroke="none"/><circle cx="113.6" cy="218.6" r="3.9" fill="#fff" fill-opacity="0.3"/><circle cx="113.6" cy="218.6" r="2.05" fill="#fff" stroke="none"/><circle cx="153.5" cy="154.7" r="3.9" fill="#fff" fill-opacity="0.3"/><circle cx="153.5" cy="154.7" r="2.05" fill="#fff" stroke="none"/><circle cx="56.7" cy="282.5" r="3.9" fill="#fff" fill-opacity="0.3"/><circle cx="56.7" cy="282.5" r="2.05" fill="#fff" stroke="none"/><circle cx="145.2" cy="160.7" r="3.9" fill="#fff" fill-opacity="0.3"/><circle cx="145.2" cy="160.7" r="2.05" fill="#fff" stroke="none"/><circle cx="121.8" cy="196.5" r="3.9" fill="#fff" fill-opacity="0.3"/><circle cx="121.8" cy="196.5" r="2.05" fill="#fff" stroke="none"/><circle cx="132.6" cy="215.4" r="3.9" fill="#fff" fill-opacity="0.3"/><circle cx="132.6" cy="215.4" r="2.05" fill="#fff" stroke="none"/><circle cx="80.2" cy="233.9" r="3.9" fill="#fff" fill-opacity="0.3"/><circle cx="80.2" cy="233.9" r="2.05" fill="#fff" stroke="none"/><circle cx="113.9" cy="241.3" r="3.9" fill="#fff" fill-opacity="0.3"/><circle cx="113.9" cy="241.3" r="2.05" fill="#fff" stroke="none"/><circle cx="63.0" cy="274.6" r="3.9" fill="#fff" fill-opacity="0.3"/><circle cx="63.0" cy="274.6" r="2.05" fill="#fff" stroke="none"/><circle cx="109.7" cy="228.8" r="3.9" fill="#fff" fill-opacity="0.3"/><circle cx="109.7" cy="228.8" r="2.05" fill="#fff" stroke="none"/><circle cx="114.2" cy="184.6" r="3.9" fill="#fff" fill-opacity="0.3"/><circle cx="114.2" cy="184.6" r="2.05" fill="#fff" stroke="none"/><circle cx="78.7" cy="243.2" r="3.9" fill="#fff" fill-opacity="0.3"/><circle cx="78.7" cy="243.2" r="2.05" fill="#fff" stroke="none"/><circle cx="166.0" cy="173.2" r="3.9" fill="#fff" fill-opacity="0.3"/><circle cx="166.0" cy="173.2" r="2.05" fill="#fff" stroke="none"/><circle cx="51.3" cy="274.1" r="3.9" fill="#fff" fill-opacity="0.3"/><circle cx="51.3" cy="274.1" r="2.05" fill="#fff" stroke="none"/><circle cx="107.3" cy="180.2" r="3.9" fill="#fff" fill-opacity="0.3"/><circle cx="107.3" cy="180.2" r="2.05" fill="#fff" stroke="none"/><circle cx="102.8" cy="242.0" r="3.9" fill="#fff" fill-opacity="0.3"/><circle cx="102.8" cy="242.0" r="2.05" fill="#fff" stroke="none"/><circle cx="126.8" cy="213.4" r="3.9" fill="#fff" fill-opacity="0.3"/><circle cx="126.8" cy="213.4" r="2.05" fill="#fff" stroke="none"/><circle cx="147.8" cy="198.4" r="3.9" fill="#fff" fill-opacity="0.3"/><circle cx="147.8" cy="198.4" r="2.05" fill="#fff" stroke="none"/><circle cx="57.9" cy="257.0" r="3.9" fill="#fff" fill-opacity="0.3"/><circle cx="57.9" cy="257.0" r="2.05" fill="#fff" stroke="none"/><circle cx="134.0" cy="159.1" r="3.9" fill="#fff" fill-opacity="0.3"/><circle cx="134.0" cy="159.1" r="2.05" fill="#fff" stroke="none"/><circle cx="111.8" cy="190.5" r="3.9" fill="#fff" fill-opacity="0.3"/><circle cx="111.8" cy="190.5" r="2.05" fill="#fff" stroke="none"/><circle cx="73.8" cy="267.5" r="3.9" fill="#fff" fill-opacity="0.3"/><circle cx="73.8" cy="267.5" r="2.05" fill="#fff" stroke="none"/><circle cx="58.0" cy="277.0" r="3.9" fill="#fff" fill-opacity="0.3"/><circle cx="58.0" cy="277.0" r="2.05" fill="#fff" stroke="none"/><circle cx="126.9" cy="169.8" r="3.9" fill="#fff" fill-opacity="0.3"/><circle cx="126.9" cy="169.8" r="2.05" fill="#fff" stroke="none"/><circle cx="174.6" cy="147.8" r="3.9" fill="#fff" fill-opacity="0.3"/><circle cx="174.6" cy="147.8" r="2.05" fill="#fff" stroke="none"/><circle cx="267.5" cy="118.9" r="3.9" fill="#fff"/><circle cx="259.4" cy="127.1" r="3.9" fill="#fff"/><circle cx="252.9" cy="129.4" r="3.9" fill="#fff"/><circle cx="250.6" cy="140.8" r="3.9" fill="#fff"/><circle cx="241.5" cy="142.4" r="3.9" fill="#fff"/><circle cx="235.6" cy="140.1" r="3.9" fill="#fff"/><circle cx="232.3" cy="133.6" r="3.9" fill="#fff"/><circle cx="221.9" cy="125.4" r="3.9" fill="#fff"/><circle cx="217.7" cy="118.9" r="3.9" fill="#fff"/><circle cx="166.5" cy="110.8" r="3.9" fill="#fff"/><circle cx="145.8" cy="109.5" r="3.9" fill="#fff"/><circle cx="187.0" cy="107.5" r="3.9" fill="#fff"/><circle cx="184.4" cy="117.3" r="3.9" fill="#fff"/><circle cx="175.6" cy="125.4" r="3.9" fill="#fff"/><circle cx="191.0" cy="136.9" r="3.9" fill="#fff"/><circle cx="191.0" cy="143.4" r="3.9" fill="#fff"/><circle cx="191.0" cy="154.8" r="3.9" fill="#fff"/><circle cx="183.5" cy="117.7" r="3.9" fill="#fff"/><circle cx="175.4" cy="126.8" r="3.9" fill="#fff"/><circle cx="134.6" cy="137.0" r="3.9" fill="#fff"/><circle cx="145.8" cy="140.1" r="3.9" fill="#fff"/><circle cx="157.6" cy="145.2" r="3.9" fill="#fff"/><circle cx="113.2" cy="168.6" r="3.9" fill="#fff"/><circle cx="191.6" cy="142.1" r="3.9" fill="#fff"/><circle cx="191.6" cy="156.4" r="3.9" fill="#fff"/><circle cx="174.0" cy="165.9" r="3.9" fill="#fff"/><circle cx="166.7" cy="170.8" r="3.9" fill="#fff"/><circle cx="158.1" cy="175.7" r="3.9" fill="#fff"/><circle cx="150.8" cy="180.6" r="3.9" fill="#fff"/><circle cx="158.1" cy="190.3" r="3.9" fill="#fff"/><circle cx="149.6" cy="192.8" r="3.9" fill="#fff"/><circle cx="139.8" cy="234.3" r="3.9" fill="#fff"/><circle cx="130.0" cy="223.3" r="3.9" fill="#fff"/><circle cx="85.8" cy="156.3" r="3.9" fill="#fff"/><circle cx="134.7" cy="137.3" r="3.9" fill="#fff"/><circle cx="113.3" cy="168.5" r="3.9" fill="#fff"/><circle cx="78.7" cy="203.5" r="3.9" fill="#fff"/><circle cx="185.7" cy="129.3" r="3.9" fill="#fff"/><circle cx="191.4" cy="138.3" r="3.9" fill="#fff"/></g>
<line x1="46.3" y1="286.0" x2="267.4" y2="28.3" stroke="#5B9BD5" stroke-width="1.8"/><line x1="46.3" y1="287.0" x2="267.4" y2="29.6" stroke="#ED7D31" stroke-width="2.0"/><line x1="46.3" y1="285.3" x2="267.4" y2="31.2" stroke="#A5A5A5" stroke-width="1.7"/><line x1="46.3" y1="284.6" x2="267.4" y2="47.0" stroke="#4472C4" stroke-width="2.0"/><line x1="46.3" y1="285.0" x2="267.0" y2="53.7" stroke="#FFC000" stroke-width="2.1"/>
<circle cx="243.8" cy="207.8" r="3.2" fill="#fff" stroke="#5B9BD5" stroke-opacity="0.6" stroke-width="3.2"/><text x="249.3" y="211.6" class="lg">LSTM</text><circle cx="243.8" cy="223.4" r="3.2" fill="#fff" stroke="#ED7D31" stroke-opacity="0.6" stroke-width="3.2"/><text x="249.3" y="227.2" class="lg">Bi-LSTM</text><circle cx="243.8" cy="239" r="3.2" fill="#fff" stroke="#A5A5A5" stroke-opacity="0.6" stroke-width="3.2"/><text x="249.3" y="242.8" class="lg">GRU</text><circle cx="243.8" cy="254.2" r="3.2" fill="#fff" stroke="#FFC000" stroke-opacity="0.6" stroke-width="3.2"/><text x="249.3" y="258.0" class="lg">MLP</text><circle cx="243.8" cy="269.8" r="3.2" fill="#fff" stroke="#4472C4" stroke-opacity="0.6" stroke-width="3.2"/><text x="249.3" y="273.6" class="lg">XGBoost</text>
<g transform="matrix(0.94410,0,0,1,22.5573,0)"><path d="M429.80,297.00 A26.30,26.30 0 0 0 403.50,270.70" fill="none" stroke="#b4b4b4" stroke-width="0.8"/><path d="M456.09,297.00 A52.59,52.59 0 0 0 403.50,244.41" fill="none" stroke="#b4b4b4" stroke-width="0.8"/><path d="M482.38,297.00 A78.88,78.88 0 0 0 403.50,218.12" fill="none" stroke="#b4b4b4" stroke-width="0.8"/><path d="M508.68,297.00 A105.18,105.18 0 0 0 403.50,191.82" fill="none" stroke="#b4b4b4" stroke-width="0.8"/><path d="M534.98,297.00 A131.48,131.48 0 0 0 403.50,165.52" fill="none" stroke="#b4b4b4" stroke-width="0.8"/><path d="M561.27,297.00 A157.77,157.77 0 0 0 403.50,139.23" fill="none" stroke="#b4b4b4" stroke-width="0.8"/><path d="M587.57,297.00 A184.07,184.07 0 0 0 403.50,112.93" fill="none" stroke="#b4b4b4" stroke-width="0.8"/><path d="M613.86,297.00 A210.36,210.36 0 0 0 403.50,86.64" fill="none" stroke="#b4b4b4" stroke-width="0.8"/><path d="M640.15,297.00 A236.66,236.66 0 0 0 403.50,60.34" fill="none" stroke="#b4b4b4" stroke-width="0.8"/><line x1="403.5" y1="297.0" x2="429.80" y2="35.37" stroke="#b4b4b4" stroke-width="0.8"/><line x1="403.5" y1="297.0" x2="456.09" y2="39.36" stroke="#b4b4b4" stroke-width="0.8"/><line x1="403.5" y1="297.0" x2="482.38" y2="46.16" stroke="#b4b4b4" stroke-width="0.8"/><line x1="403.5" y1="297.0" x2="508.68" y2="56.00" stroke="#b4b4b4" stroke-width="0.8"/><line x1="403.5" y1="297.0" x2="534.97" y2="69.28" stroke="#b4b4b4" stroke-width="0.8"/><line x1="403.5" y1="297.0" x2="561.27" y2="86.64" stroke="#b4b4b4" stroke-width="0.8"/><line x1="403.5" y1="297.0" x2="587.56" y2="109.22" stroke="#b4b4b4" stroke-width="0.8"/><line x1="403.5" y1="297.0" x2="613.86" y2="139.23" stroke="#b4b4b4" stroke-width="0.8"/><line x1="403.5" y1="297.0" x2="640.15" y2="182.38" stroke="#b4b4b4" stroke-width="0.8"/><line x1="403.5" y1="297.0" x2="653.30" y2="214.89" stroke="#b4b4b4" stroke-width="0.8"/><line x1="403.5" y1="297.0" x2="663.82" y2="259.91" stroke="#b4b4b4" stroke-width="0.8"/><path d="M631.39,297.00 L631.39,296.59 L631.38,296.17 L631.38,295.76 L631.36,295.35 L631.35,294.94 L631.33,294.52 L631.31,294.11 L631.29,293.70 L631.26,293.29 L631.23,292.87 L631.19,292.46 L631.16,292.05 L631.12,291.64 L631.07,291.23 L631.03,290.82 L630.98,290.41 L630.92,290.00 L630.87,289.59 L630.81,289.18 L630.74,288.77 L630.68,288.37 L630.61,287.96 L630.53,287.55 L630.46,287.15 L630.38,286.74 L630.30,286.34 L630.21,285.93 L630.12,285.53 L630.03,285.13 L629.94,284.72 L629.84,284.32 L629.74,283.92 L629.63,283.52 L629.53,283.12 L629.42,282.72 L629.30,282.33 L629.19,281.93 L629.07,281.54 L628.94,281.14 L628.82,280.75 L628.69,280.36 L628.55,279.97 L628.42,279.57 L628.28,279.19 L628.14,278.80 L628.00,278.41 L627.85,278.02 L627.70,277.64 L627.54,277.26 L627.39,276.87 L627.23,276.49 L627.06,276.11 L626.90,275.74 L626.73,275.36 L626.56,274.98 L626.38,274.61 L626.21,274.24 L626.03,273.86 L625.84,273.49 L625.66,273.12 L625.47,272.76 L625.28,272.39 L625.08,272.03 L624.88,271.66 L624.68,271.30 L624.48,270.94 L624.28,270.59 L624.07,270.23 L623.85,269.87 L623.64,269.52 L623.42,269.17 L623.20,268.82 L622.98,268.47 L622.76,268.13 L622.53,267.78 L622.30,267.44 L622.06,267.10 L621.83,266.76 L621.59,266.42 L621.35,266.09 L621.10,265.76 L620.86,265.42 L620.61,265.09 L620.35,264.77 L620.10,264.44 L619.84,264.12 L619.58,263.80 L619.32,263.48 L619.06,263.16 L618.79,262.85 L618.52,262.53 L618.25,262.22 L617.97,261.91 L617.70,261.61 L617.42,261.30 L617.14,261.00 L616.85,260.70 L616.57,260.40 L616.28,260.11 L615.99,259.81 L615.69,259.52 L615.40,259.23 L615.10,258.95 L614.80,258.66 L614.50,258.38 L614.19,258.10 L613.89,257.83 L613.58,257.55 L613.27,257.28 L612.95,257.01 L612.64,256.74 L612.32,256.48 L612.00,256.22 L611.68,255.96 L611.36,255.70 L611.03,255.45 L610.71,255.19 L610.38,254.94 L610.04,254.70 L609.71,254.45 L609.38,254.21 L609.04,253.97 L608.70,253.74 L608.36,253.50 L608.02,253.27 L607.67,253.04 L607.33,252.82 L606.98,252.60 L606.63,252.38 L606.28,252.16 L605.93,251.95 L605.57,251.73 L605.21,251.52 L604.86,251.32 L604.50,251.12 L604.14,250.92 L603.77,250.72 L603.41,250.52 L603.04,250.33 L602.68,250.14 L602.31,249.96 L601.94,249.77 L601.56,249.59 L601.19,249.42 L600.82,249.24 L600.44,249.07 L600.06,248.90 L599.69,248.74 L599.31,248.57 L598.93,248.41 L598.54,248.26 L598.16,248.10 L597.78,247.95 L597.39,247.80 L597.00,247.66 L596.61,247.52 L596.23,247.38 L595.83,247.25 L595.44,247.11 L595.05,246.98 L594.66,246.86 L594.26,246.73 L593.87,246.61 L593.47,246.50 L593.08,246.38 L592.68,246.27 L592.28,246.17 L591.88,246.06 L591.48,245.96 L591.08,245.86 L590.67,245.77 L590.27,245.68 L589.87,245.59 L589.46,245.50 L589.06,245.42 L588.65,245.34 L588.25,245.27 L587.84,245.19 L587.43,245.12 L587.03,245.06 L586.62,244.99 L586.21,244.93 L585.80,244.88 L585.39,244.82 L584.98,244.77 L584.57,244.73 L584.16,244.68 L583.75,244.64 L583.34,244.61 L582.93,244.57 L582.51,244.54 L582.10,244.51 L581.69,244.49 L581.28,244.47 L580.86,244.45 L580.45,244.44 L580.04,244.42 L579.63,244.42 L579.21,244.41 L578.80,244.41 L578.39,244.41 L577.97,244.42 L577.56,244.42 L577.15,244.44 L576.74,244.45 L576.32,244.47 L575.91,244.49 L575.50,244.51 L575.09,244.54 L574.67,244.57 L574.26,244.61 L573.85,244.64 L573.44,244.68 L573.03,244.73 L572.62,244.77 L572.21,244.82 L571.80,244.88 L571.39,244.93 L570.98,244.99 L570.57,245.06 L570.17,245.12 L569.76,245.19 L569.35,245.27 L568.95,245.34 L568.54,245.42 L568.14,245.50 L567.73,245.59 L567.33,245.68 L566.93,245.77 L566.52,245.86 L566.12,245.96 L565.72,246.06 L565.32,246.17 L564.92,246.27 L564.52,246.38 L564.13,246.50 L563.73,246.61 L563.34,246.73 L562.94,246.86 L562.55,246.98 L562.16,247.11 L561.77,247.25 L561.37,247.38 L560.99,247.52 L560.60,247.66 L560.21,247.80 L559.82,247.95 L559.44,248.10 L559.06,248.26 L558.67,248.41 L558.29,248.57 L557.91,248.74 L557.54,248.90 L557.16,249.07 L556.78,249.24 L556.41,249.42 L556.04,249.59 L555.66,249.77 L555.29,249.96 L554.92,250.14 L554.56,250.33 L554.19,250.52 L553.83,250.72 L553.46,250.92 L553.10,251.12 L552.74,251.32 L552.39,251.52 L552.03,251.73 L551.67,251.95 L551.32,252.16 L550.97,252.38 L550.62,252.60 L550.27,252.82 L549.93,253.04 L549.58,253.27 L549.24,253.50 L548.90,253.74 L548.56,253.97 L548.22,254.21 L547.89,254.45 L547.56,254.70 L547.22,254.94 L546.89,255.19 L546.57,255.45 L546.24,255.70 L545.92,255.96 L545.60,256.22 L545.28,256.48 L544.96,256.74 L544.65,257.01 L544.33,257.28 L544.02,257.55 L543.71,257.83M531.76,273.49 L531.57,273.86 L531.39,274.24 L531.22,274.61 L531.04,274.98 L530.87,275.36 L530.70,275.74 L530.54,276.11 L530.37,276.49 L530.21,276.87 L530.06,277.26 L529.90,277.64 L529.75,278.02 L529.60,278.41 L529.46,278.80 L529.32,279.19 L529.18,279.57 L529.05,279.97 L528.91,280.36 L528.78,280.75 L528.66,281.14 L528.53,281.54 L528.41,281.93 L528.30,282.33 L528.18,282.72 L528.07,283.12 L527.97,283.52 L527.86,283.92 L527.76,284.32 L527.66,284.72 L527.57,285.13 L527.48,285.53 L527.39,285.93 L527.30,286.34 L527.22,286.74 L527.14,287.15 L527.07,287.55 L526.99,287.96 L526.92,288.37 L526.86,288.77 L526.79,289.18 L526.73,289.59 L526.68,290.00 L526.62,290.41 L526.57,290.82 L526.53,291.23 L526.48,291.64 L526.44,292.05 L526.41,292.46 L526.37,292.87 L526.34,293.29 L526.31,293.70 L526.29,294.11 L526.27,294.52 L526.25,294.94 L526.24,295.35 L526.22,295.76 L526.22,296.17 L526.21,296.59 L526.21,297.00" fill="none" stroke="#8a8a8a" stroke-width="1.5"/><text transform="translate(537.02,265.05) rotate(-52.59)" text-anchor="middle" class="rl" dy="0.36em" textLength="15.90" lengthAdjust="spacingAndGlyphs">0.3</text><path d="M656.59,226.21 L656.04,225.60 L655.47,225.00 L654.91,224.40 L654.33,223.80 L653.76,223.21 L653.17,222.63 L652.59,222.04 L652.00,221.47 L651.40,220.89 L650.80,220.33 L650.20,219.76 L649.59,219.21 L648.97,218.65 L648.36,218.10 L647.73,217.56 L647.11,217.02 L646.48,216.49 L645.84,215.96 L645.21,215.43 L644.56,214.91 L643.92,214.40 L643.27,213.89 L642.61,213.39 L641.95,212.89 L641.29,212.40 L640.62,211.91 L639.95,211.42 L639.28,210.95 L638.60,210.47 L637.92,210.01 L637.23,209.55 L636.55,209.09 L635.85,208.64 L635.16,208.19 L634.46,207.75 L633.76,207.32 L633.05,206.89 L632.34,206.47 L631.63,206.05 L630.91,205.64 L630.19,205.23 L629.47,204.83 L628.75,204.43 L628.02,204.05 L627.29,203.66 L626.55,203.28 L625.81,202.91 L625.07,202.55 L624.33,202.18 L623.58,201.83 L622.83,201.48 L622.08,201.14 L621.33,200.80 L620.57,200.47 L619.81,200.15 L619.05,199.83 L618.29,199.51 L617.52,199.21 L616.75,198.91 L615.98,198.61 L615.20,198.32 L614.43,198.04 L613.65,197.76 L612.87,197.49 L612.09,197.23 L611.30,196.97 L610.52,196.72 L609.73,196.47 L608.94,196.23 L608.14,196.00 L607.35,195.77 L606.55,195.55 L605.76,195.33 L604.96,195.12 L604.16,194.92 L603.35,194.73 L602.55,194.54 L601.74,194.35 L600.94,194.18 L600.13,194.01 L599.32,193.84 L598.51,193.68 L597.70,193.53 L596.88,193.39 L596.07,193.25 L595.25,193.11 L594.44,192.99 L593.62,192.87 L592.80,192.76 L591.98,192.65 L591.16,192.55 L590.34,192.46 L589.52,192.37 L588.70,192.29 L587.88,192.21 L587.05,192.14 L586.23,192.08 L585.40,192.03 L584.58,191.98 L583.75,191.94 L582.93,191.90 L582.10,191.87 L581.28,191.85 L580.45,191.83 L579.63,191.82 L578.80,191.82 L577.97,191.82 L577.15,191.83 L576.32,191.85 L575.50,191.87 L574.67,191.90 L573.85,191.94 L573.02,191.98 L572.20,192.03 L571.37,192.08 L570.55,192.14 L569.72,192.21 L568.90,192.29 L568.08,192.37 L567.26,192.46 L566.44,192.55 L565.62,192.65 L564.80,192.76 L563.98,192.87 L563.16,192.99 L562.35,193.11 L561.53,193.25 L560.72,193.39 L559.90,193.53 L559.09,193.68 L558.28,193.84 L557.47,194.01 L556.66,194.18 L555.86,194.35 L555.05,194.54 L554.25,194.73 L553.44,194.92 L552.64,195.12 L551.84,195.33 L551.05,195.55 L550.25,195.77 L549.46,196.00 L548.66,196.23 L547.87,196.47 L547.08,196.72 L546.30,196.97 L545.51,197.23 L544.73,197.49 L543.95,197.76 L543.17,198.04 L542.40,198.32 L541.62,198.61 L540.85,198.91 L540.08,199.21 L539.31,199.51 L538.55,199.83 L537.79,200.15 L537.03,200.47 L536.27,200.80 L535.52,201.14 L534.77,201.48 L534.02,201.83 L533.27,202.18 L532.53,202.55 L531.79,202.91 L531.05,203.28 L530.31,203.66 L529.58,204.05 L528.85,204.43 L528.13,204.83 L527.41,205.23 L526.69,205.64 L525.97,206.05 L525.26,206.47 L524.55,206.89 L523.84,207.32 L523.14,207.75 L522.44,208.19 L521.75,208.64 L521.05,209.09 L520.37,209.55 L519.68,210.01 L519.00,210.47 L518.32,210.95 L517.65,211.42 L516.98,211.91 L516.31,212.40 L515.65,212.89 L514.99,213.39 L514.33,213.89 L513.68,214.40 L513.04,214.91 L512.39,215.43 L511.76,215.96 L511.12,216.49 L510.49,217.02 L509.87,217.56 L509.24,218.10 L508.63,218.65 L508.01,219.21 L507.40,219.76 L506.80,220.33 L506.20,220.89 L505.60,221.47 L505.01,222.04 L504.43,222.63 L503.84,223.21 L503.27,223.80 L502.69,224.40 L502.13,225.00 L501.56,225.60 L501.01,226.21 L500.45,226.83 L499.90,227.44 L499.36,228.07 L498.82,228.69 L498.29,229.32 L497.76,229.96 L497.23,230.59 L496.71,231.24 L496.20,231.88 L495.69,232.53 L495.19,233.19 L494.69,233.85 L494.20,234.51 L493.71,235.18 L493.22,235.85 L492.75,236.52 L492.27,237.20 L491.81,237.88 L491.35,238.57 L490.89,239.25 L490.44,239.95 L489.99,240.64 L489.55,241.34 L489.12,242.04 L488.69,242.75 L488.27,243.46 L487.85,244.17 L487.44,244.89 L487.03,245.61 L486.63,246.33 L486.23,247.05 L485.85,247.78 L485.46,248.51 L485.08,249.25 L484.71,249.99 L484.35,250.73 L483.98,251.47 L483.63,252.22 L483.28,252.97 L482.94,253.72 L482.60,254.47 L482.27,255.23 L481.95,255.99 L481.63,256.75 L481.31,257.51 L481.01,258.28 L480.71,259.05 L480.41,259.82 L480.12,260.60 L479.84,261.37 L479.56,262.15 L479.29,262.93M474.67,282.18 L474.56,283.00 L474.45,283.82 L474.35,284.64 L474.26,285.46 L474.17,286.28 L474.09,287.10 L474.01,287.92 L473.94,288.75 L473.88,289.57 L473.83,290.40 L473.78,291.22 L473.74,292.05 L473.70,292.87 L473.67,293.70 L473.65,294.52 L473.63,295.35 L473.62,296.17 L473.62,297.00" fill="none" stroke="#8a8a8a" stroke-width="1.5"/><text transform="translate(476.57,272.27) rotate(-76.40)" text-anchor="middle" class="rl" dy="0.36em" textLength="15.90" lengthAdjust="spacingAndGlyphs">0.6</text><path d="M616.83,143.88 L615.63,143.59 L614.42,143.30 L613.22,143.03 L612.01,142.76 L610.79,142.51 L609.58,142.26 L608.36,142.02 L607.15,141.80 L605.93,141.58 L604.70,141.37 L603.48,141.17 L602.26,140.98 L601.03,140.80 L599.80,140.63 L598.57,140.47 L597.34,140.32 L596.11,140.18 L594.88,140.05 L593.65,139.93 L592.41,139.82 L591.18,139.72 L589.94,139.62 L588.71,139.54 L587.47,139.47 L586.23,139.41 L584.99,139.35 L583.76,139.31 L582.52,139.27 L581.28,139.25 L580.04,139.23 L578.80,139.23 L577.56,139.23 L576.32,139.25 L575.08,139.27 L573.84,139.31 L572.61,139.35 L571.37,139.41 L570.13,139.47 L568.89,139.54 L567.66,139.62 L566.42,139.72 L565.19,139.82 L563.95,139.93 L562.72,140.05 L561.49,140.18 L560.26,140.32 L559.03,140.47 L557.80,140.63 L556.57,140.80 L555.34,140.98 L554.12,141.17 L552.90,141.37 L551.67,141.58 L550.45,141.80 L549.24,142.02 L548.02,142.26 L546.81,142.51 L545.59,142.76 L544.38,143.03 L543.18,143.30 L541.97,143.59 L540.77,143.88 L539.56,144.19 L538.37,144.50 L537.17,144.82 L535.97,145.15 L534.78,145.49 L533.60,145.84 L532.41,146.20 L531.23,146.57 L530.05,146.95 L528.87,147.34 L527.70,147.74 L526.52,148.14 L525.36,148.56 L524.19,148.98 L523.03,149.41 L521.87,149.86 L520.72,150.31 L519.57,150.77 L518.42,151.24 L517.28,151.72 L516.14,152.21 L515.01,152.70 L513.88,153.21 L512.75,153.72 L511.62,154.25 L510.51,154.78 L509.39,155.32 L508.28,155.87 L507.17,156.43 L506.07,156.99 L504.97,157.57 L503.88,158.15 L502.79,158.75 L501.71,159.35 L500.63,159.96 L499.56,160.57 L498.49,161.20 L497.42,161.84 L496.37,162.48 L495.31,163.13 L494.26,163.79 L493.22,164.46 L492.18,165.13 L491.15,165.82 L490.12,166.51 L489.10,167.21 L488.08,167.92 L487.07,168.64 L486.07,169.36 L485.07,170.09 L484.07,170.83 L483.08,171.58 L482.10,172.34 L481.13,173.10 L480.16,173.87 L479.19,174.65 L478.23,175.44 L477.28,176.23 L476.34,177.03 L475.40,177.84 L474.46,178.65 L473.54,179.48 L472.62,180.31 L471.71,181.15 L470.80,181.99 L469.90,182.84 L469.01,183.70 L468.12,184.57 L467.24,185.44 L466.37,186.32 L465.50,187.21 L464.64,188.10 L463.79,189.00 L462.95,189.91 L462.11,190.82 L461.28,191.74 L460.45,192.66 L459.64,193.60 L458.83,194.54 L458.03,195.48 L457.24,196.43 L456.45,197.39 L455.67,198.36 L454.90,199.33 L454.14,200.30 L453.38,201.28 L452.63,202.27 L451.89,203.27 L451.16,204.27 L450.44,205.27 L449.72,206.28 L449.01,207.30 L448.31,208.32 L447.62,209.35 L446.93,210.38 L446.26,211.42 L445.59,212.46 L444.93,213.51 L444.28,214.57 L443.64,215.62 L443.00,216.69 L442.37,217.76 L441.76,218.83 L441.15,219.91 L440.55,220.99 L439.95,222.08 L439.37,223.17 L438.79,224.27 L438.23,225.37 L437.67,226.48 L437.12,227.59 L436.58,228.71 L436.05,229.82 L435.52,230.95 L435.01,232.08 L434.50,233.21 L434.01,234.34 L433.52,235.48 L433.04,236.62 L432.57,237.77 L432.11,238.92 L431.66,240.07 L431.21,241.23 L430.78,242.39 L430.36,243.56 L429.94,244.72 L429.54,245.90 L429.14,247.07 L428.75,248.25 L428.37,249.43 L428.00,250.61 L427.64,251.80 L427.29,252.98 L426.95,254.17 L426.62,255.37 L426.30,256.57 L425.99,257.76 L425.68,258.97 L425.39,260.17 L425.10,261.38 L424.83,262.58 L424.56,263.79 L424.31,265.01 L424.06,266.22 L423.82,267.44 L423.60,268.65 L423.38,269.87 L423.17,271.10 L422.97,272.32 L422.78,273.54 L422.60,274.77 L422.43,276.00 L422.27,277.23 L422.12,278.46 L421.98,279.69 L421.85,280.92" fill="none" stroke="#8a8a8a" stroke-width="1.5"/><text transform="translate(421.16,290.56) rotate(-87.66)" text-anchor="middle" class="rl" dy="0.36em" textLength="15.90" lengthAdjust="spacingAndGlyphs">0.9</text><path d="M560.65,87.42 L559.00,87.57 L557.36,87.74 L555.72,87.91 L554.07,88.10 L552.43,88.30 L550.80,88.51 L549.16,88.74 L547.53,88.98 L545.89,89.23 L544.26,89.49 L542.63,89.77 L541.01,90.06 L539.38,90.37 L537.76,90.68 L536.14,91.01 L534.53,91.35 L532.91,91.71 L531.30,92.07 L529.69,92.45 L528.09,92.84 L526.49,93.25 L524.89,93.67 L523.29,94.10 L521.70,94.54 L520.11,94.99 L518.53,95.46 L516.95,95.94 L515.37,96.43 L513.80,96.94 L512.23,97.45 L510.66,97.98 L509.10,98.52 L507.54,99.08 L505.99,99.64 L504.44,100.22 L502.90,100.81 L501.36,101.41 L499.83,102.03 L498.30,102.65 L496.77,103.29 L495.26,103.94 L493.74,104.60 L492.23,105.28 L490.73,105.96 L489.23,106.66 L487.74,107.37 L486.25,108.09 L484.77,108.82 L483.30,109.57 L481.83,110.32 L480.37,111.09 L478.91,111.87 L477.46,112.66 L476.01,113.46 L474.58,114.27 L473.14,115.10 L471.72,115.93 L470.30,116.78 L468.89,117.64 L467.48,118.51 L466.08,119.39 L464.69,120.28 L463.31,121.18 L461.93,122.09 L460.56,123.02 L459.20,123.95 L457.84,124.89 L456.49,125.85 L455.15,126.82 L453.82,127.79 L452.50,128.78 L451.18,129.78 L449.87,130.78 L448.57,131.80 L447.27,132.83 L445.99,133.87 L444.71,134.91 L443.44,135.97 L442.18,137.04 L440.93,138.12 L439.69,139.21 L438.45,140.30 L437.23,141.41 L436.01,142.53 L434.80,143.65M421.01,157.89 L419.92,159.13 L418.84,160.38 L417.77,161.64 L416.71,162.91 L415.67,164.19 L414.63,165.47 L413.60,166.77 L412.58,168.07 L411.58,169.38 L410.58,170.70 L409.59,172.02 L408.62,173.35 L407.65,174.69 L406.69,176.04 L405.75,177.40 L404.82,178.76 L403.89,180.13" fill="none" stroke="#8a8a8a" stroke-width="1.5"/><text transform="translate(427.69,150.66) rotate(-45.92)" text-anchor="middle" class="rl" dy="0.36em" textLength="15.90" lengthAdjust="spacingAndGlyphs">1.2</text><path d="M489.73,49.60 L487.79,50.30 L485.85,51.02 L483.92,51.76 L482.00,52.52 L480.08,53.28 L478.17,54.07 L476.27,54.86 L474.37,55.68 L472.48,56.50 L470.59,57.35 L468.71,58.20 L466.84,59.08 L464.98,59.96 L463.12,60.86 L461.27,61.78 L459.42,62.71 L457.59,63.65 L455.76,64.61 L453.94,65.59 L452.12,66.58 L450.32,67.58 L448.52,68.59M431.00,79.52 L429.30,80.69 L427.60,81.87 L425.92,83.06 L424.24,84.27 L422.58,85.49 L420.92,86.72 L419.27,87.97 L417.64,89.23 L416.01,90.50 L414.39,91.79 L412.79,93.08 L411.19,94.39 L409.60,95.72 L408.03,97.05 L406.46,98.40 L404.91,99.76" fill="none" stroke="#8a8a8a" stroke-width="1.5"/><text transform="translate(439.43,74.02) rotate(-32.01)" text-anchor="middle" class="rl" dy="0.36em" textLength="15.90" lengthAdjust="spacingAndGlyphs">1.5</text><path d="M578.80,297.00 A175.30,175.30 0 0 0 403.50,121.70" fill="none" stroke="#000" stroke-width="1.5" stroke-dasharray="5.5 2.5"/><path d="M666.45,297.00 A262.95,262.95 0 0 0 403.50,34.05" fill="none" stroke="#222" stroke-width="1.0"/><line x1="403.5" y1="297.0" x2="403.5" y2="34.05" stroke="#333" stroke-width="1.15"/><line x1="403.5" y1="297.4" x2="666.45" y2="297.4" stroke="#222" stroke-width="1.0"/><line x1="403.5" y1="297.00" x2="407.0" y2="297.00" stroke="#333" stroke-width="0.8"/><text transform="translate(400.10,300.45)" text-anchor="end" class="tk" textLength="22.27" lengthAdjust="spacingAndGlyphs">0.00</text><line x1="403.50" y1="297.0" x2="403.50" y2="293.5" stroke="#333" stroke-width="0.8"/><text transform="translate(406.10,301.70) rotate(-90.00)" text-anchor="end" class="tk" textLength="22.27" lengthAdjust="spacingAndGlyphs">0.00</text><line x1="403.5" y1="270.70" x2="407.0" y2="270.70" stroke="#333" stroke-width="0.8"/><text transform="translate(400.10,274.15)" text-anchor="end" class="tk" textLength="22.27" lengthAdjust="spacingAndGlyphs">0.15</text><line x1="429.80" y1="297.0" x2="429.80" y2="293.5" stroke="#333" stroke-width="0.8"/><text transform="translate(432.40,301.70) rotate(-90.00)" text-anchor="end" class="tk" textLength="22.27" lengthAdjust="spacingAndGlyphs">0.15</text><line x1="403.5" y1="244.41" x2="407.0" y2="244.41" stroke="#333" stroke-width="0.8"/><text transform="translate(400.10,247.86)" text-anchor="end" class="tk" textLength="22.27" lengthAdjust="spacingAndGlyphs">0.30</text><line x1="456.09" y1="297.0" x2="456.09" y2="293.5" stroke="#333" stroke-width="0.8"/><text transform="translate(458.69,301.70) rotate(-90.00)" text-anchor="end" class="tk" textLength="22.27" lengthAdjust="spacingAndGlyphs">0.30</text><line x1="403.5" y1="218.12" x2="407.0" y2="218.12" stroke="#333" stroke-width="0.8"/><text transform="translate(400.10,221.56)" text-anchor="end" class="tk" textLength="22.27" lengthAdjust="spacingAndGlyphs">0.45</text><line x1="482.38" y1="297.0" x2="482.38" y2="293.5" stroke="#333" stroke-width="0.8"/><text transform="translate(484.99,301.70) rotate(-90.00)" text-anchor="end" class="tk" textLength="22.27" lengthAdjust="spacingAndGlyphs">0.45</text><line x1="403.5" y1="191.82" x2="407.0" y2="191.82" stroke="#333" stroke-width="0.8"/><text transform="translate(400.10,195.27)" text-anchor="end" class="tk" textLength="22.27" lengthAdjust="spacingAndGlyphs">0.60</text><line x1="508.68" y1="297.0" x2="508.68" y2="293.5" stroke="#333" stroke-width="0.8"/><text transform="translate(511.28,301.70) rotate(-90.00)" text-anchor="end" class="tk" textLength="22.27" lengthAdjust="spacingAndGlyphs">0.60</text><line x1="403.5" y1="165.52" x2="407.0" y2="165.52" stroke="#333" stroke-width="0.8"/><text transform="translate(400.10,168.97)" text-anchor="end" class="tk" textLength="22.27" lengthAdjust="spacingAndGlyphs">0.75</text><line x1="534.98" y1="297.0" x2="534.98" y2="293.5" stroke="#333" stroke-width="0.8"/><text transform="translate(537.58,301.70) rotate(-90.00)" text-anchor="end" class="tk" textLength="22.27" lengthAdjust="spacingAndGlyphs">0.75</text><line x1="403.5" y1="139.23" x2="407.0" y2="139.23" stroke="#333" stroke-width="0.8"/><text transform="translate(400.10,142.68)" text-anchor="end" class="tk" textLength="22.27" lengthAdjust="spacingAndGlyphs">0.90</text><line x1="561.27" y1="297.0" x2="561.27" y2="293.5" stroke="#333" stroke-width="0.8"/><text transform="translate(563.87,301.70) rotate(-90.00)" text-anchor="end" class="tk" textLength="22.27" lengthAdjust="spacingAndGlyphs">0.90</text><line x1="403.5" y1="112.93" x2="407.0" y2="112.93" stroke="#333" stroke-width="0.8"/><text transform="translate(400.10,116.38)" text-anchor="end" class="tk" textLength="22.27" lengthAdjust="spacingAndGlyphs">1.05</text><line x1="587.57" y1="297.0" x2="587.57" y2="293.5" stroke="#333" stroke-width="0.8"/><text transform="translate(590.17,301.70) rotate(-90.00)" text-anchor="end" class="tk" textLength="22.27" lengthAdjust="spacingAndGlyphs">1.05</text><line x1="403.5" y1="86.64" x2="407.0" y2="86.64" stroke="#333" stroke-width="0.8"/><text transform="translate(400.10,90.09)" text-anchor="end" class="tk" textLength="22.27" lengthAdjust="spacingAndGlyphs">1.20</text><line x1="613.86" y1="297.0" x2="613.86" y2="293.5" stroke="#333" stroke-width="0.8"/><text transform="translate(616.46,301.70) rotate(-90.00)" text-anchor="end" class="tk" textLength="22.27" lengthAdjust="spacingAndGlyphs">1.20</text><line x1="403.5" y1="60.34" x2="407.0" y2="60.34" stroke="#333" stroke-width="0.8"/><text transform="translate(400.10,63.80)" text-anchor="end" class="tk" textLength="22.27" lengthAdjust="spacingAndGlyphs">1.35</text><line x1="640.15" y1="297.0" x2="640.15" y2="293.5" stroke="#333" stroke-width="0.8"/><text transform="translate(642.75,301.70) rotate(-90.00)" text-anchor="end" class="tk" textLength="22.27" lengthAdjust="spacingAndGlyphs">1.35</text><line x1="403.50" y1="34.05" x2="403.50" y2="37.56" stroke="#000" stroke-width="0.8"/><text transform="translate(403.50,27.05)" text-anchor="middle" class="tk" dy="0.36em" textLength="15.90" lengthAdjust="spacingAndGlyphs">0.0</text><line x1="429.80" y1="35.37" x2="429.44" y2="38.86" stroke="#000" stroke-width="0.8"/><text transform="translate(430.50,28.40) rotate(5.74)" text-anchor="middle" class="tk" dy="0.36em" textLength="15.90" lengthAdjust="spacingAndGlyphs">0.1</text><line x1="456.09" y1="39.36" x2="455.39" y2="42.80" stroke="#000" stroke-width="0.8"/><text transform="translate(457.49,32.50) rotate(11.54)" text-anchor="middle" class="tk" dy="0.36em" textLength="15.90" lengthAdjust="spacingAndGlyphs">0.2</text><line x1="482.38" y1="46.16" x2="481.33" y2="49.51" stroke="#000" stroke-width="0.8"/><text transform="translate(484.49,39.48) rotate(17.46)" text-anchor="middle" class="tk" dy="0.36em" textLength="15.90" lengthAdjust="spacingAndGlyphs">0.3</text><line x1="508.68" y1="56.00" x2="507.28" y2="59.22" stroke="#000" stroke-width="0.8"/><text transform="translate(511.48,49.59) rotate(23.58)" text-anchor="middle" class="tk" dy="0.36em" textLength="15.90" lengthAdjust="spacingAndGlyphs">0.4</text><line x1="534.97" y1="69.28" x2="533.22" y2="72.31" stroke="#000" stroke-width="0.8"/><text transform="translate(538.47,63.22) rotate(30.00)" text-anchor="middle" class="tk" dy="0.36em" textLength="15.90" lengthAdjust="spacingAndGlyphs">0.5</text><line x1="561.27" y1="86.64" x2="559.17" y2="89.44" stroke="#000" stroke-width="0.8"/><text transform="translate(565.47,81.04) rotate(36.87)" text-anchor="middle" class="tk" dy="0.36em" textLength="15.90" lengthAdjust="spacingAndGlyphs">0.6</text><line x1="587.56" y1="109.22" x2="585.11" y2="111.72" stroke="#000" stroke-width="0.8"/><text transform="translate(592.47,104.22) rotate(44.43)" text-anchor="middle" class="tk" dy="0.36em" textLength="15.90" lengthAdjust="spacingAndGlyphs">0.7</text><line x1="613.86" y1="139.23" x2="611.06" y2="141.33" stroke="#000" stroke-width="0.8"/><text transform="translate(619.46,135.03) rotate(53.13)" text-anchor="middle" class="tk" dy="0.36em" textLength="15.90" lengthAdjust="spacingAndGlyphs">0.8</text><line x1="640.15" y1="182.38" x2="637.00" y2="183.91" stroke="#000" stroke-width="0.8"/><text transform="translate(646.46,179.33) rotate(64.16)" text-anchor="middle" class="tk" dy="0.36em" textLength="15.90" lengthAdjust="spacingAndGlyphs">0.9</text><line x1="653.30" y1="214.89" x2="649.97" y2="215.99" stroke="#000" stroke-width="0.8"/><text transform="translate(659.95,212.71) rotate(71.81)" text-anchor="middle" class="tk" dy="0.36em" textLength="22.27" lengthAdjust="spacingAndGlyphs">0.95</text><line x1="663.82" y1="259.91" x2="660.35" y2="260.40" stroke="#000" stroke-width="0.8"/><text transform="translate(670.75,258.92) rotate(81.89)" text-anchor="middle" class="tk" dy="0.36em" textLength="22.27" lengthAdjust="spacingAndGlyphs">0.99</text><line x1="666.45" y1="297.00" x2="662.94" y2="297.00" stroke="#000" stroke-width="0.8"/><text transform="translate(673.45,297.00) rotate(90.00)" text-anchor="middle" class="tk" dy="0.36em" textLength="15.90" lengthAdjust="spacingAndGlyphs">1.0</text><text transform="translate(604.56,95.94) rotate(45.00)" text-anchor="middle" class="tk" dy="0.36em" textLength="110.45" lengthAdjust="spacingAndGlyphs">Correlation coefficient</text><text transform="translate(534.74,24.40)" text-anchor="middle" class="tb2" textLength="16.70" lengthAdjust="spacingAndGlyphs">(b)</text><text transform="translate(534.63,336.40)" text-anchor="middle" class="tk" textLength="95.15" lengthAdjust="spacingAndGlyphs">Standard deviation</text><text transform="translate(372.25,166.20) rotate(-90.00)" text-anchor="middle" class="tk" textLength="95.15" lengthAdjust="spacingAndGlyphs">Standard deviation</text></g>
<rect x="554.8" y="254.1" width="9.9" height="9.5" fill="#E41A1C"/><circle cx="559.6" cy="261.2" r="4.6" fill="#4DAF4A"/><polygon points="557.6,255 562.4,264.6 552.8,264.6" fill="#FF7F00"/><polygon points="543.8,254.4 550.5,261.4 543.8,268.5 537.1,261.4" fill="#A0522D"/><polygon points="546.8,255.8 542.9,246.6 550.7,246.6" fill="#999"/><polygon points="569.00,292.90 570.12,295.96 573.37,296.08 570.81,298.09 571.70,301.22 569.00,299.40 566.30,301.22 567.19,298.09 564.63,296.08 567.88,295.96" fill="#000"/>
<rect x="616.5" y="3.5" width="66" height="77" rx="2" fill="#fff" fill-opacity="0.85" stroke="#d0d0d0" stroke-width="0.8"/><polygon points="627.40,6.50 628.40,9.32 631.39,9.40 629.02,11.23 629.87,14.10 627.40,12.40 624.93,14.10 625.78,11.23 623.41,9.40 626.40,9.32" fill="#000"/><line x1="618.3" y1="22.9" x2="636.4" y2="22.9" stroke="#1f77b4" stroke-width="1.3"/><line x1="618.3" y1="35.5" x2="636.4" y2="35.5" stroke="#ff7f0e" stroke-width="1.3"/><line x1="618.3" y1="47.6" x2="636.4" y2="47.6" stroke="#2ca02c" stroke-width="1.3"/><line x1="618.3" y1="60.1" x2="636.4" y2="60.1" stroke="#d62728" stroke-width="1.3"/><line x1="618.3" y1="72.4" x2="636.4" y2="72.4" stroke="#9467bd" stroke-width="1.3"/><rect x="622.8" y="18.299999999999997" width="9.2" height="9.2" fill="#E41A1C"/><circle cx="627.4" cy="35.5" r="4.6" fill="#4DAF4A"/><polygon points="627.4,42.6 632.1,51.9 622.6999999999999,51.9" fill="#FF7F00"/><polygon points="627.4,54.1 632.9,60.1 627.4,66.1 621.9,60.1" fill="#A0522D"/><polygon points="627.4,77.4 632.1,68.10000000000001 622.6999999999999,68.10000000000001" fill="#999"/><text x="641.3" y="13.8" class="lb" textLength="37.84" lengthAdjust="spacingAndGlyphs">Observed</text><text x="641.3" y="26.0" class="lb" textLength="20.96" lengthAdjust="spacingAndGlyphs">LSTM</text><text x="641.3" y="38.6" class="lb" textLength="31.38" lengthAdjust="spacingAndGlyphs">Bi-LSTM</text><text x="641.3" y="50.7" class="lb" textLength="17.32" lengthAdjust="spacingAndGlyphs">GRU</text><text x="641.3" y="63.2" class="lb" textLength="15.91" lengthAdjust="spacingAndGlyphs">MLP</text><text x="641.3" y="75.5" class="lb" textLength="33.68" lengthAdjust="spacingAndGlyphs">XGBoost</text>
<line x1="157.1" y1="365.3" x2="157.1" y2="489.6" stroke="#cccccc" stroke-width="1.2"/><line x1="234.5" y1="365.3" x2="234.5" y2="489.6" stroke="#cccccc" stroke-width="1.2"/><line x1="311.7" y1="365.3" x2="311.7" y2="489.6" stroke="#cccccc" stroke-width="1.2"/><line x1="389" y1="365.3" x2="389" y2="489.6" stroke="#cccccc" stroke-width="1.2"/><line x1="466.7" y1="365.3" x2="466.7" y2="489.6" stroke="#cccccc" stroke-width="1.2"/><line x1="544" y1="365.3" x2="544" y2="489.6" stroke="#cccccc" stroke-width="1.2"/><line x1="65.3" y1="408.0" x2="621.2" y2="408.0" stroke="#b4b4b4" stroke-width="1.2"/><line x1="65.3" y1="428.3" x2="621.2" y2="428.3" stroke="#b4b4b4" stroke-width="1.2"/><line x1="65.3" y1="448.7" x2="621.2" y2="448.7" stroke="#b4b4b4" stroke-width="1.2"/><line x1="65.3" y1="470.2" x2="621.2" y2="470.2" stroke="#b4b4b4" stroke-width="1.2"/><line x1="65.3" y1="365.3" x2="65.3" y2="489.6" stroke="#c8c8c8" stroke-width="1.1"/><line x1="621.2" y1="365.3" x2="621.2" y2="489.6" stroke="#9a9a9a" stroke-width="1.3"/><line x1="65.3" y1="365.3" x2="621.2" y2="365.3" stroke="#a8a8a8" stroke-width="1.2"/><line x1="65.3" y1="489.6" x2="621.2" y2="489.6" stroke="#a8a8a8" stroke-width="1.2"/><line x1="65.3" y1="386.4" x2="621.2" y2="386.4" stroke="#555555" stroke-width="1.8"/><text x="111.2" y="381.9" text-anchor="middle" class="tb">(c)</text><text x="195.8" y="381.9" text-anchor="middle" class="tb">R²</text><text x="273.1" y="381.9" text-anchor="middle" class="tb">RMSE</text><text x="350.4" y="381.9" text-anchor="middle" class="tb">MAE</text><text x="427.9" y="381.9" text-anchor="middle" class="tb">MSE</text><text x="505.4" y="381.9" text-anchor="middle" class="tb">σ</text><text x="582.6" y="381.9" text-anchor="middle" class="tb">WI</text><text x="111.2" y="402.9" text-anchor="middle" class="tb">LSTM</text><text x="195.8" y="402.9" text-anchor="middle" class="tr">0.950</text><text x="273.1" y="402.9" text-anchor="middle" class="tr">11.648</text><text x="350.4" y="402.9" text-anchor="middle" class="tr">6.463</text><text x="427.9" y="402.9" text-anchor="middle" class="tr">135.686</text><text x="505.4" y="402.9" text-anchor="middle" class="tr">11.648</text><text x="582.6" y="402.9" text-anchor="middle" class="tr">0.961</text><text x="111.2" y="423.6" text-anchor="middle" class="tb">Bi-LSTM</text><text x="195.8" y="423.6" text-anchor="middle" class="tr">0.955</text><text x="273.1" y="423.6" text-anchor="middle" class="tr">11.110</text><text x="350.4" y="423.6" text-anchor="middle" class="tr">6.076</text><text x="427.9" y="423.6" text-anchor="middle" class="tr">123.440</text><text x="505.4" y="423.6" text-anchor="middle" class="tr">11.019</text><text x="582.6" y="423.6" text-anchor="middle" class="tr">0.964</text><text x="111.2" y="444.4" text-anchor="middle" class="tb">GRU</text><text x="195.8" y="444.4" text-anchor="middle" class="tr">0.949</text><text x="273.1" y="444.4" text-anchor="middle" class="tr">11.812</text><text x="350.4" y="444.4" text-anchor="middle" class="tr">6.382</text><text x="427.9" y="444.4" text-anchor="middle" class="tr">139.524</text><text x="505.4" y="444.4" text-anchor="middle" class="tr">11.808</text><text x="582.6" y="444.4" text-anchor="middle" class="tr">0.959</text><text x="111.2" y="465.2" text-anchor="middle" class="tb">MLP</text><text x="195.8" y="465.2" text-anchor="middle" class="tr">0.928</text><text x="273.1" y="465.2" text-anchor="middle" class="tr">14.044</text><text x="350.4" y="465.2" text-anchor="middle" class="tr">7.938</text><text x="427.9" y="465.2" text-anchor="middle" class="tr">197.231</text><text x="505.4" y="465.2" text-anchor="middle" class="tr">13.263</text><text x="582.6" y="465.2" text-anchor="middle" class="tr">0.938</text><text x="111.2" y="486.0" text-anchor="middle" class="tb">XGBoost</text><text x="195.8" y="486.0" text-anchor="middle" class="tr">0.916</text><text x="273.1" y="486.0" text-anchor="middle" class="tr">15.214</text><text x="350.4" y="486.0" text-anchor="middle" class="tr">7.020</text><text x="427.9" y="486.0" text-anchor="middle" class="tr">231.461</text><text x="505.4" y="486.0" text-anchor="middle" class="tr">15.213</text><text x="582.6" y="486.0" text-anchor="middle" class="tr">0.933</text>
</svg></body></html>
